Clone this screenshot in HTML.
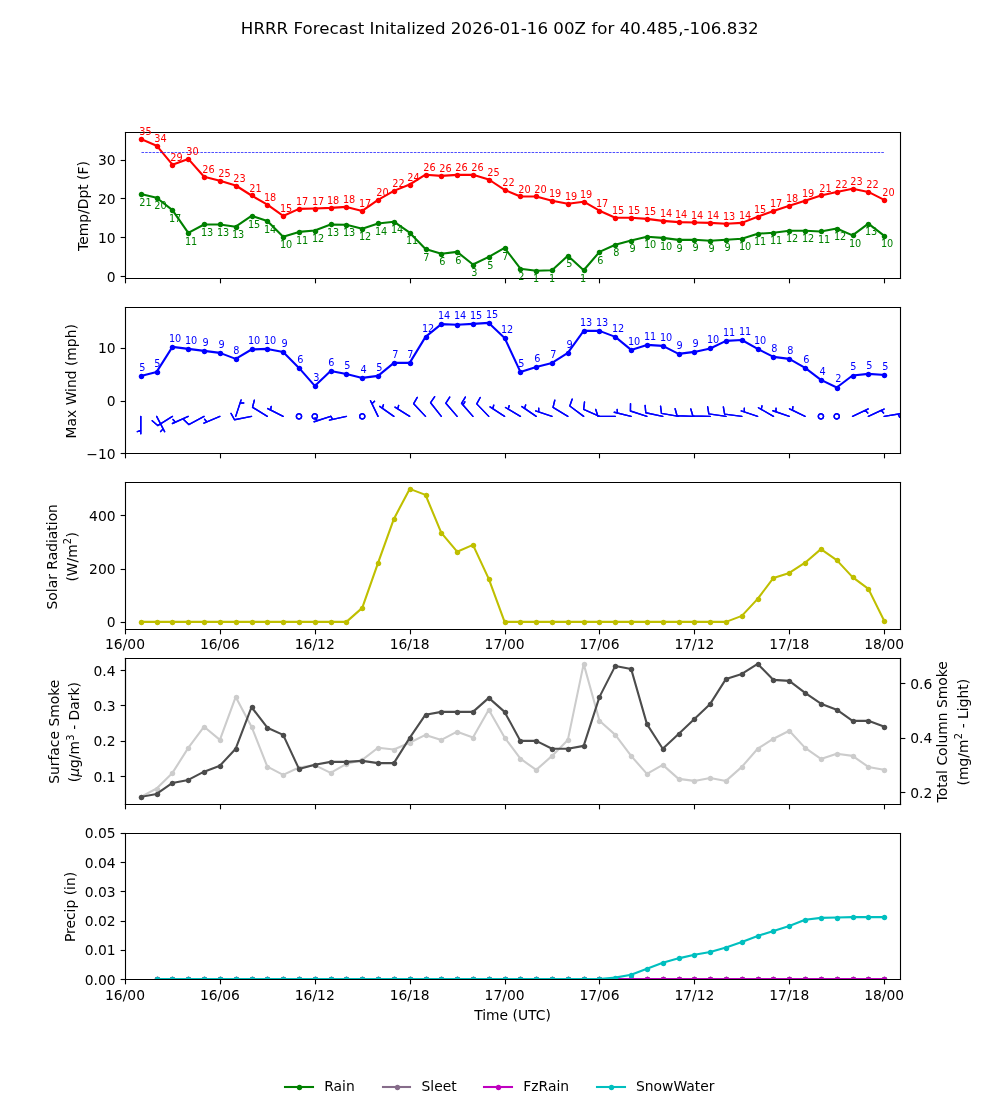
<!DOCTYPE html>
<html lang="en"><head><meta charset="utf-8"><title>HRRR Forecast</title>
<style>html,body{margin:0;padding:0;background:#fff;}svg{display:block;will-change:transform;}text{font-family:"DejaVu Sans","Liberation Sans",sans-serif;}</style></head>
<body>
<svg width="1000" height="1100" viewBox="0 0 720 792" version="1.1">
 <defs>
  <style type="text/css">*{stroke-linejoin: round; stroke-linecap: butt}</style>
 </defs>
 <g id="figure_1">
  <g id="patch_1">
   <path d="M 0 792 
L 720 792 
L 720 0 
L 0 0 
z
" style="fill: #ffffff"/>
  </g>
  <g id="axes_1">
   <g id="patch_2">
    <path d="M 90 200.184828 
L 648 200.184828 
L 648 95.04 
L 90 95.04 
z
" style="fill: #ffffff"/>
   </g>
   <g id="matplotlib.axis_1">
    <g id="xtick_1">
     <g id="line2d_1">
      <defs>
       <path id="m32e9f8ea44" d="M 0 0 
L 0 3.5 
" style="stroke: #000000; stroke-width: 0.8"/>
      </defs>
      <g>
       <use href="#m32e9f8ea44" x="90.3600" y="200.5200" style="stroke: #000000; stroke-width: 0.8"/>
      </g>
     </g>
    </g>
    <g id="xtick_2">
     <g id="line2d_2">
      <g>
       <use href="#m32e9f8ea44" x="158.7600" y="200.5200" style="stroke: #000000; stroke-width: 0.8"/>
      </g>
     </g>
    </g>
    <g id="xtick_3">
     <g id="line2d_3">
      <g>
       <use href="#m32e9f8ea44" x="227.1600" y="200.5200" style="stroke: #000000; stroke-width: 0.8"/>
      </g>
     </g>
    </g>
    <g id="xtick_4">
     <g id="line2d_4">
      <g>
       <use href="#m32e9f8ea44" x="295.5600" y="200.5200" style="stroke: #000000; stroke-width: 0.8"/>
      </g>
     </g>
    </g>
    <g id="xtick_5">
     <g id="line2d_5">
      <g>
       <use href="#m32e9f8ea44" x="363.9600" y="200.5200" style="stroke: #000000; stroke-width: 0.8"/>
      </g>
     </g>
    </g>
    <g id="xtick_6">
     <g id="line2d_6">
      <g>
       <use href="#m32e9f8ea44" x="431.6400" y="200.5200" style="stroke: #000000; stroke-width: 0.8"/>
      </g>
     </g>
    </g>
    <g id="xtick_7">
     <g id="line2d_7">
      <g>
       <use href="#m32e9f8ea44" x="500.0400" y="200.5200" style="stroke: #000000; stroke-width: 0.8"/>
      </g>
     </g>
    </g>
    <g id="xtick_8">
     <g id="line2d_8">
      <g>
       <use href="#m32e9f8ea44" x="568.4400" y="200.5200" style="stroke: #000000; stroke-width: 0.8"/>
      </g>
     </g>
    </g>
    <g id="xtick_9">
     <g id="line2d_9">
      <g>
       <use href="#m32e9f8ea44" x="636.8400" y="200.5200" style="stroke: #000000; stroke-width: 0.8"/>
      </g>
     </g>
    </g>
   </g>
   <g id="matplotlib.axis_2">
    <g id="ytick_1">
     <g id="line2d_10">
      <defs>
       <path id="mfa02ca06f7" d="M 0 0 
L -3.5 0 
" style="stroke: #000000; stroke-width: 0.8"/>
      </defs>
      <g>
       <use href="#mfa02ca06f7" x="90.3600" y="199.0800" style="stroke: #000000; stroke-width: 0.8"/>
      </g>
     </g>
     <g id="text_1">
      <text style="font-size: 10px; font-family: 'DejaVu Sans', 'Liberation Sans', sans-serif; text-anchor: end" x="83.2160" y="202.719419">0</text>
     </g>
    </g>
    <g id="ytick_2">
     <g id="line2d_11">
      <g>
       <use href="#mfa02ca06f7" x="90.3600" y="171.0000" style="stroke: #000000; stroke-width: 0.8"/>
      </g>
     </g>
     <g id="text_2">
      <text style="font-size: 10px; font-family: 'DejaVu Sans', 'Liberation Sans', sans-serif; text-anchor: end" x="83.2160" y="174.770236">10</text>
     </g>
    </g>
    <g id="ytick_3">
     <g id="line2d_12">
      <g>
       <use href="#mfa02ca06f7" x="90.3600" y="142.9200" style="stroke: #000000; stroke-width: 0.8"/>
      </g>
     </g>
     <g id="text_3">
      <text style="font-size: 10px; font-family: 'DejaVu Sans', 'Liberation Sans', sans-serif; text-anchor: end" x="83.2160" y="146.821053">20</text>
     </g>
    </g>
    <g id="ytick_4">
     <g id="line2d_13">
      <g>
       <use href="#mfa02ca06f7" x="90.3600" y="115.5600" style="stroke: #000000; stroke-width: 0.8"/>
      </g>
     </g>
     <g id="text_4">
      <text style="font-size: 10px; font-family: 'DejaVu Sans', 'Liberation Sans', sans-serif; text-anchor: end" x="83.2160" y="118.871869">30</text>
     </g>
    </g>
    <g id="text_5">
     <text style="font-size: 10px; font-family: 'DejaVu Sans', 'Liberation Sans', sans-serif; text-anchor: middle" x="63.4300" y="148.3324" transform="rotate(-90 63.4300 148.3324)">Temp/Dpt (F)</text>
    </g>
   </g>
   <g id="line2d_14">
    <path d="M 101.387755 100.008 
L 112.77551 104.904 
L 124.163265 118.584 
L 135.55102 114.408 
L 146.938776 127.224 
L 158.326531 130.104 
L 169.714286 133.56 
L 181.102041 140.76 
L 192.489796 147.384 
L 203.877551 155.466134 
L 215.265306 150.408 
L 226.653061 150.12 
L 238.040816 149.688 
L 249.428571 148.968 
L 260.816327 151.848 
L 272.204082 143.928 
L 283.591837 137.448 
L 294.979592 132.84 
L 306.367347 125.784 
L 317.755102 126.648 
L 329.142857 125.928 
L 340.530612 125.784 
L 351.918367 129.24 
L 363.306122 136.728 
L 374.693878 141.48 
L 386.081633 141.48 
L 397.469388 144.504 
L 408.857143 146.664 
L 420.244898 145.224 
L 431.632653 151.704 
L 443.020408 156.744 
L 454.408163 156.744 
L 465.795918 157.608 
L 477.183673 159.048 
L 488.571429 159.912 
L 499.959184 160.2 
L 511.346939 160.488 
L 522.734694 161.064 
L 534.122449 160.488 
L 545.510204 156.024 
L 556.897959 151.848 
L 568.285714 148.104 
L 579.673469 144.504 
L 591.061224 140.76 
L 602.44898 138.168 
L 613.836735 135.864 
L 625.22449 138.168 
L 636.612245 143.928 
" clip-path="url(#p893cc0ca87)" style="fill: none; stroke: #ff0000; stroke-width: 1.5; stroke-linecap: square"/>
    <defs>
     <path id="m028112eead" d="M 0 1.5 
C 0.397805 1.5 0.77937 1.341951 1.06066 1.06066 
C 1.341951 0.77937 1.5 0.397805 1.5 0 
C 1.5 -0.397805 1.341951 -0.77937 1.06066 -1.06066 
C 0.77937 -1.341951 0.397805 -1.5 0 -1.5 
C -0.397805 -1.5 -0.77937 -1.341951 -1.06066 -1.06066 
C -1.341951 -0.77937 -1.5 -0.397805 -1.5 0 
C -1.5 0.397805 -1.341951 0.77937 -1.06066 1.06066 
C -0.77937 1.341951 -0.397805 1.5 0 1.5 
z
" style="stroke: #ff0000"/>
    </defs>
    <g clip-path="url(#p893cc0ca87)">
     <use href="#m028112eead" x="101.8800" y="100.4400" style="fill: #ff0000; stroke: #ff0000"/>
     <use href="#m028112eead" x="113.4000" y="105.4800" style="fill: #ff0000; stroke: #ff0000"/>
     <use href="#m028112eead" x="124.2000" y="119.1600" style="fill: #ff0000; stroke: #ff0000"/>
     <use href="#m028112eead" x="135.7200" y="114.8400" style="fill: #ff0000; stroke: #ff0000"/>
     <use href="#m028112eead" x="147.2400" y="127.8000" style="fill: #ff0000; stroke: #ff0000"/>
     <use href="#m028112eead" x="158.7600" y="130.6800" style="fill: #ff0000; stroke: #ff0000"/>
     <use href="#m028112eead" x="170.2800" y="134.2800" style="fill: #ff0000; stroke: #ff0000"/>
     <use href="#m028112eead" x="181.8000" y="140.7600" style="fill: #ff0000; stroke: #ff0000"/>
     <use href="#m028112eead" x="192.6000" y="147.9600" style="fill: #ff0000; stroke: #ff0000"/>
     <use href="#m028112eead" x="204.1200" y="155.8800" style="fill: #ff0000; stroke: #ff0000"/>
     <use href="#m028112eead" x="215.6400" y="150.8400" style="fill: #ff0000; stroke: #ff0000"/>
     <use href="#m028112eead" x="227.1600" y="150.8400" style="fill: #ff0000; stroke: #ff0000"/>
     <use href="#m028112eead" x="238.6800" y="150.1200" style="fill: #ff0000; stroke: #ff0000"/>
     <use href="#m028112eead" x="249.4800" y="149.4000" style="fill: #ff0000; stroke: #ff0000"/>
     <use href="#m028112eead" x="261.0000" y="152.2800" style="fill: #ff0000; stroke: #ff0000"/>
     <use href="#m028112eead" x="272.5200" y="144.3600" style="fill: #ff0000; stroke: #ff0000"/>
     <use href="#m028112eead" x="284.0400" y="137.8800" style="fill: #ff0000; stroke: #ff0000"/>
     <use href="#m028112eead" x="295.5600" y="133.5600" style="fill: #ff0000; stroke: #ff0000"/>
     <use href="#m028112eead" x="307.0800" y="126.3600" style="fill: #ff0000; stroke: #ff0000"/>
     <use href="#m028112eead" x="317.8800" y="127.0800" style="fill: #ff0000; stroke: #ff0000"/>
     <use href="#m028112eead" x="329.4000" y="126.3600" style="fill: #ff0000; stroke: #ff0000"/>
     <use href="#m028112eead" x="340.9200" y="126.3600" style="fill: #ff0000; stroke: #ff0000"/>
     <use href="#m028112eead" x="352.4400" y="129.9600" style="fill: #ff0000; stroke: #ff0000"/>
     <use href="#m028112eead" x="363.9600" y="137.1600" style="fill: #ff0000; stroke: #ff0000"/>
     <use href="#m028112eead" x="374.7600" y="141.4800" style="fill: #ff0000; stroke: #ff0000"/>
     <use href="#m028112eead" x="386.2800" y="141.4800" style="fill: #ff0000; stroke: #ff0000"/>
     <use href="#m028112eead" x="397.8000" y="145.0800" style="fill: #ff0000; stroke: #ff0000"/>
     <use href="#m028112eead" x="409.3200" y="147.2400" style="fill: #ff0000; stroke: #ff0000"/>
     <use href="#m028112eead" x="420.8400" y="145.8000" style="fill: #ff0000; stroke: #ff0000"/>
     <use href="#m028112eead" x="431.6400" y="152.2800" style="fill: #ff0000; stroke: #ff0000"/>
     <use href="#m028112eead" x="443.1600" y="157.3200" style="fill: #ff0000; stroke: #ff0000"/>
     <use href="#m028112eead" x="454.6800" y="157.3200" style="fill: #ff0000; stroke: #ff0000"/>
     <use href="#m028112eead" x="466.2000" y="158.0400" style="fill: #ff0000; stroke: #ff0000"/>
     <use href="#m028112eead" x="477.7200" y="159.4800" style="fill: #ff0000; stroke: #ff0000"/>
     <use href="#m028112eead" x="489.2400" y="160.2000" style="fill: #ff0000; stroke: #ff0000"/>
     <use href="#m028112eead" x="500.0400" y="160.2000" style="fill: #ff0000; stroke: #ff0000"/>
     <use href="#m028112eead" x="511.5600" y="160.9200" style="fill: #ff0000; stroke: #ff0000"/>
     <use href="#m028112eead" x="523.0800" y="161.6400" style="fill: #ff0000; stroke: #ff0000"/>
     <use href="#m028112eead" x="534.6000" y="160.9200" style="fill: #ff0000; stroke: #ff0000"/>
     <use href="#m028112eead" x="546.1200" y="156.6000" style="fill: #ff0000; stroke: #ff0000"/>
     <use href="#m028112eead" x="556.9200" y="152.2800" style="fill: #ff0000; stroke: #ff0000"/>
     <use href="#m028112eead" x="568.4400" y="148.6800" style="fill: #ff0000; stroke: #ff0000"/>
     <use href="#m028112eead" x="579.9600" y="145.0800" style="fill: #ff0000; stroke: #ff0000"/>
     <use href="#m028112eead" x="591.4800" y="140.7600" style="fill: #ff0000; stroke: #ff0000"/>
     <use href="#m028112eead" x="603.0000" y="138.6000" style="fill: #ff0000; stroke: #ff0000"/>
     <use href="#m028112eead" x="614.5200" y="136.4400" style="fill: #ff0000; stroke: #ff0000"/>
     <use href="#m028112eead" x="625.3200" y="138.6000" style="fill: #ff0000; stroke: #ff0000"/>
     <use href="#m028112eead" x="636.8400" y="144.3600" style="fill: #ff0000; stroke: #ff0000"/>
    </g>
   </g>
   <g id="line2d_15">
    <path d="M 101.387755 139.608 
L 112.77551 142.344 
L 124.163265 151.272 
L 135.55102 167.688 
L 146.938776 161.64 
L 158.326531 161.64 
L 169.714286 163.224 
L 181.102041 155.466134 
L 192.489796 159.048 
L 203.877551 170.424 
L 215.265306 166.968 
L 226.653061 165.96 
L 238.040816 161.64 
L 249.428571 161.784 
L 260.816327 164.664 
L 272.204082 160.92 
L 283.591837 159.624 
L 294.979592 167.544 
L 306.367347 179.208 
L 317.755102 182.664 
L 329.142857 181.368 
L 340.530612 190.44 
L 351.918367 184.968 
L 363.306122 178.488 
L 374.693878 193.464 
L 386.081633 194.904 
L 397.469388 194.594991 
L 408.857143 184.104 
L 420.244898 194.594991 
L 431.632653 181.368 
L 443.020408 176.184 
L 454.408163 173.16 
L 465.795918 170.424 
L 477.183673 171.288 
L 488.571429 172.728 
L 499.959184 172.584 
L 511.346939 173.304 
L 522.734694 172.584 
L 534.122449 171.864 
L 545.510204 168.264 
L 556.897959 167.544 
L 568.285714 166.104 
L 579.673469 166.104 
L 591.061224 166.645808 
L 602.44898 164.52 
L 613.836735 169.440726 
L 625.22449 161.064 
L 636.612245 169.704 
" clip-path="url(#p893cc0ca87)" style="fill: none; stroke: #008000; stroke-width: 1.5; stroke-linecap: square"/>
    <defs>
     <path id="m4e61fe54c4" d="M 0 1.5 
C 0.397805 1.5 0.77937 1.341951 1.06066 1.06066 
C 1.341951 0.77937 1.5 0.397805 1.5 0 
C 1.5 -0.397805 1.341951 -0.77937 1.06066 -1.06066 
C 0.77937 -1.341951 0.397805 -1.5 0 -1.5 
C -0.397805 -1.5 -0.77937 -1.341951 -1.06066 -1.06066 
C -1.341951 -0.77937 -1.5 -0.397805 -1.5 0 
C -1.5 0.397805 -1.341951 0.77937 -1.06066 1.06066 
C -0.77937 1.341951 -0.397805 1.5 0 1.5 
z
" style="stroke: #008000"/>
    </defs>
    <g clip-path="url(#p893cc0ca87)">
     <use href="#m4e61fe54c4" x="101.8800" y="140.0400" style="fill: #008000; stroke: #008000"/>
     <use href="#m4e61fe54c4" x="113.4000" y="142.9200" style="fill: #008000; stroke: #008000"/>
     <use href="#m4e61fe54c4" x="124.2000" y="151.5600" style="fill: #008000; stroke: #008000"/>
     <use href="#m4e61fe54c4" x="135.7200" y="168.1200" style="fill: #008000; stroke: #008000"/>
     <use href="#m4e61fe54c4" x="147.2400" y="161.6400" style="fill: #008000; stroke: #008000"/>
     <use href="#m4e61fe54c4" x="158.7600" y="161.6400" style="fill: #008000; stroke: #008000"/>
     <use href="#m4e61fe54c4" x="170.2800" y="163.8000" style="fill: #008000; stroke: #008000"/>
     <use href="#m4e61fe54c4" x="181.8000" y="155.8800" style="fill: #008000; stroke: #008000"/>
     <use href="#m4e61fe54c4" x="192.6000" y="159.4800" style="fill: #008000; stroke: #008000"/>
     <use href="#m4e61fe54c4" x="204.1200" y="171.0000" style="fill: #008000; stroke: #008000"/>
     <use href="#m4e61fe54c4" x="215.6400" y="167.4000" style="fill: #008000; stroke: #008000"/>
     <use href="#m4e61fe54c4" x="227.1600" y="166.6800" style="fill: #008000; stroke: #008000"/>
     <use href="#m4e61fe54c4" x="238.6800" y="161.6400" style="fill: #008000; stroke: #008000"/>
     <use href="#m4e61fe54c4" x="249.4800" y="162.3600" style="fill: #008000; stroke: #008000"/>
     <use href="#m4e61fe54c4" x="261.0000" y="165.2400" style="fill: #008000; stroke: #008000"/>
     <use href="#m4e61fe54c4" x="272.5200" y="160.9200" style="fill: #008000; stroke: #008000"/>
     <use href="#m4e61fe54c4" x="284.0400" y="160.2000" style="fill: #008000; stroke: #008000"/>
     <use href="#m4e61fe54c4" x="295.5600" y="168.1200" style="fill: #008000; stroke: #008000"/>
     <use href="#m4e61fe54c4" x="307.0800" y="179.6400" style="fill: #008000; stroke: #008000"/>
     <use href="#m4e61fe54c4" x="317.8800" y="183.2400" style="fill: #008000; stroke: #008000"/>
     <use href="#m4e61fe54c4" x="329.4000" y="181.8000" style="fill: #008000; stroke: #008000"/>
     <use href="#m4e61fe54c4" x="340.9200" y="191.1600" style="fill: #008000; stroke: #008000"/>
     <use href="#m4e61fe54c4" x="352.4400" y="185.4000" style="fill: #008000; stroke: #008000"/>
     <use href="#m4e61fe54c4" x="363.9600" y="178.9200" style="fill: #008000; stroke: #008000"/>
     <use href="#m4e61fe54c4" x="374.7600" y="194.0400" style="fill: #008000; stroke: #008000"/>
     <use href="#m4e61fe54c4" x="386.2800" y="195.4800" style="fill: #008000; stroke: #008000"/>
     <use href="#m4e61fe54c4" x="397.8000" y="194.7600" style="fill: #008000; stroke: #008000"/>
     <use href="#m4e61fe54c4" x="409.3200" y="184.6800" style="fill: #008000; stroke: #008000"/>
     <use href="#m4e61fe54c4" x="420.8400" y="194.7600" style="fill: #008000; stroke: #008000"/>
     <use href="#m4e61fe54c4" x="431.6400" y="181.8000" style="fill: #008000; stroke: #008000"/>
     <use href="#m4e61fe54c4" x="443.1600" y="176.7600" style="fill: #008000; stroke: #008000"/>
     <use href="#m4e61fe54c4" x="454.6800" y="173.8800" style="fill: #008000; stroke: #008000"/>
     <use href="#m4e61fe54c4" x="466.2000" y="171.0000" style="fill: #008000; stroke: #008000"/>
     <use href="#m4e61fe54c4" x="477.7200" y="171.7200" style="fill: #008000; stroke: #008000"/>
     <use href="#m4e61fe54c4" x="489.2400" y="173.1600" style="fill: #008000; stroke: #008000"/>
     <use href="#m4e61fe54c4" x="500.0400" y="173.1600" style="fill: #008000; stroke: #008000"/>
     <use href="#m4e61fe54c4" x="511.5600" y="173.8800" style="fill: #008000; stroke: #008000"/>
     <use href="#m4e61fe54c4" x="523.0800" y="173.1600" style="fill: #008000; stroke: #008000"/>
     <use href="#m4e61fe54c4" x="534.6000" y="172.4400" style="fill: #008000; stroke: #008000"/>
     <use href="#m4e61fe54c4" x="546.1200" y="168.8400" style="fill: #008000; stroke: #008000"/>
     <use href="#m4e61fe54c4" x="556.9200" y="168.1200" style="fill: #008000; stroke: #008000"/>
     <use href="#m4e61fe54c4" x="568.4400" y="166.6800" style="fill: #008000; stroke: #008000"/>
     <use href="#m4e61fe54c4" x="579.9600" y="166.6800" style="fill: #008000; stroke: #008000"/>
     <use href="#m4e61fe54c4" x="591.4800" y="166.6800" style="fill: #008000; stroke: #008000"/>
     <use href="#m4e61fe54c4" x="603.0000" y="165.2400" style="fill: #008000; stroke: #008000"/>
     <use href="#m4e61fe54c4" x="614.5200" y="169.5600" style="fill: #008000; stroke: #008000"/>
     <use href="#m4e61fe54c4" x="625.3200" y="161.6400" style="fill: #008000; stroke: #008000"/>
     <use href="#m4e61fe54c4" x="636.8400" y="170.2800" style="fill: #008000; stroke: #008000"/>
    </g>
   </g>
   <g id="line2d_16">
    <path d="M 101.8800 109.8000 L 636.8400 109.8000" clip-path="url(#p893cc0ca87)" style="fill: none; stroke-dasharray: 1.85,0.8; stroke-dashoffset: 0; stroke: #0000ff; stroke-width: 0.5"/>
   </g>
   <g id="patch_3">
    <path d="M 90.3600 200.5200 L 90.3600 95.4000" style="fill: none; stroke: #000000; stroke-width: 0.8; stroke-linejoin: miter; stroke-linecap: square"/>
   </g>
   <g id="patch_4">
    <path d="M 648.3600 200.5200 L 648.3600 95.4000" style="fill: none; stroke: #000000; stroke-width: 0.8; stroke-linejoin: miter; stroke-linecap: square"/>
   </g>
   <g id="patch_5">
    <path d="M 90.3600 200.5200 L 648.3600 200.5200" style="fill: none; stroke: #000000; stroke-width: 0.8; stroke-linejoin: miter; stroke-linecap: square"/>
   </g>
   <g id="patch_6">
    <path d="M 90.3600 95.4000 L 648.3600 95.4000" style="fill: none; stroke: #000000; stroke-width: 0.8; stroke-linejoin: miter; stroke-linecap: square"/>
   </g>
   <g id="text_6">
    <text style="font-size: 7px; font-family: 'DejaVu Sans', 'Liberation Sans', sans-serif; text-anchor: start; fill: #ff0000" x="100.2528" y="97.2000">35</text>
   </g>
   <g id="text_7">
    <text style="font-size: 7px; font-family: 'DejaVu Sans', 'Liberation Sans', sans-serif; text-anchor: start; fill: #ff0000" x="111.0528" y="102.2400">34</text>
   </g>
   <g id="text_8">
    <text style="font-size: 7px; font-family: 'DejaVu Sans', 'Liberation Sans', sans-serif; text-anchor: start; fill: #ff0000" x="122.5944" y="115.9200">29</text>
   </g>
   <g id="text_9">
    <text style="font-size: 7px; font-family: 'DejaVu Sans', 'Liberation Sans', sans-serif; text-anchor: start; fill: #ff0000" x="134.0928" y="111.6000">30</text>
   </g>
   <g id="text_10">
    <text style="font-size: 7px; font-family: 'DejaVu Sans', 'Liberation Sans', sans-serif; text-anchor: start; fill: #ff0000" x="145.6344" y="124.5600">26</text>
   </g>
   <g id="text_11">
    <text style="font-size: 7px; font-family: 'DejaVu Sans', 'Liberation Sans', sans-serif; text-anchor: start; fill: #ff0000" x="157.1544" y="127.4400">25</text>
   </g>
   <g id="text_12">
    <text style="font-size: 7px; font-family: 'DejaVu Sans', 'Liberation Sans', sans-serif; text-anchor: start; fill: #ff0000" x="167.9544" y="131.0400">23</text>
   </g>
   <g id="text_13">
    <text style="font-size: 7px; font-family: 'DejaVu Sans', 'Liberation Sans', sans-serif; text-anchor: start; fill: #ff0000" x="179.4744" y="138.2400">21</text>
   </g>
   <g id="text_14">
    <text style="font-size: 7px; font-family: 'DejaVu Sans', 'Liberation Sans', sans-serif; text-anchor: start; fill: #ff0000" x="190.0296" y="144.7200">18</text>
   </g>
   <g id="text_15">
    <text style="font-size: 7px; font-family: 'DejaVu Sans', 'Liberation Sans', sans-serif; text-anchor: start; fill: #ff0000" x="201.5496" y="152.6400">15</text>
   </g>
   <g id="text_16">
    <text style="font-size: 7px; font-family: 'DejaVu Sans', 'Liberation Sans', sans-serif; text-anchor: start; fill: #ff0000" x="213.0696" y="147.6000">17</text>
   </g>
   <g id="text_17">
    <text style="font-size: 7px; font-family: 'DejaVu Sans', 'Liberation Sans', sans-serif; text-anchor: start; fill: #ff0000" x="224.5896" y="147.6000">17</text>
   </g>
   <g id="text_18">
    <text style="font-size: 7px; font-family: 'DejaVu Sans', 'Liberation Sans', sans-serif; text-anchor: start; fill: #ff0000" x="235.3896" y="146.8800">18</text>
   </g>
   <g id="text_19">
    <text style="font-size: 7px; font-family: 'DejaVu Sans', 'Liberation Sans', sans-serif; text-anchor: start; fill: #ff0000" x="246.9096" y="146.1600">18</text>
   </g>
   <g id="text_20">
    <text style="font-size: 7px; font-family: 'DejaVu Sans', 'Liberation Sans', sans-serif; text-anchor: start; fill: #ff0000" x="258.4296" y="149.0400">17</text>
   </g>
   <g id="text_21">
    <text style="font-size: 7px; font-family: 'DejaVu Sans', 'Liberation Sans', sans-serif; text-anchor: start; fill: #ff0000" x="270.9144" y="141.1200">20</text>
   </g>
   <g id="text_22">
    <text style="font-size: 7px; font-family: 'DejaVu Sans', 'Liberation Sans', sans-serif; text-anchor: start; fill: #ff0000" x="282.4344" y="134.6400">22</text>
   </g>
   <g id="text_23">
    <text style="font-size: 7px; font-family: 'DejaVu Sans', 'Liberation Sans', sans-serif; text-anchor: start; fill: #ff0000" x="293.2344" y="130.3200">24</text>
   </g>
   <g id="text_24">
    <text style="font-size: 7px; font-family: 'DejaVu Sans', 'Liberation Sans', sans-serif; text-anchor: start; fill: #ff0000" x="304.7544" y="123.1200">26</text>
   </g>
   <g id="text_25">
    <text style="font-size: 7px; font-family: 'DejaVu Sans', 'Liberation Sans', sans-serif; text-anchor: start; fill: #ff0000" x="316.2744" y="123.8400">26</text>
   </g>
   <g id="text_26">
    <text style="font-size: 7px; font-family: 'DejaVu Sans', 'Liberation Sans', sans-serif; text-anchor: start; fill: #ff0000" x="327.7944" y="123.1200">26</text>
   </g>
   <g id="text_27">
    <text style="font-size: 7px; font-family: 'DejaVu Sans', 'Liberation Sans', sans-serif; text-anchor: start; fill: #ff0000" x="339.3144" y="123.1200">26</text>
   </g>
   <g id="text_28">
    <text style="font-size: 7px; font-family: 'DejaVu Sans', 'Liberation Sans', sans-serif; text-anchor: start; fill: #ff0000" x="350.8344" y="126.7200">25</text>
   </g>
   <g id="text_29">
    <text style="font-size: 7px; font-family: 'DejaVu Sans', 'Liberation Sans', sans-serif; text-anchor: start; fill: #ff0000" x="361.6344" y="133.9200">22</text>
   </g>
   <g id="text_30">
    <text style="font-size: 7px; font-family: 'DejaVu Sans', 'Liberation Sans', sans-serif; text-anchor: start; fill: #ff0000" x="373.1544" y="138.9600">20</text>
   </g>
   <g id="text_31">
    <text style="font-size: 7px; font-family: 'DejaVu Sans', 'Liberation Sans', sans-serif; text-anchor: start; fill: #ff0000" x="384.6744" y="138.9600">20</text>
   </g>
   <g id="text_32">
    <text style="font-size: 7px; font-family: 'DejaVu Sans', 'Liberation Sans', sans-serif; text-anchor: start; fill: #ff0000" x="395.2296" y="141.8400">19</text>
   </g>
   <g id="text_33">
    <text style="font-size: 7px; font-family: 'DejaVu Sans', 'Liberation Sans', sans-serif; text-anchor: start; fill: #ff0000" x="406.7496" y="144.0000">19</text>
   </g>
   <g id="text_34">
    <text style="font-size: 7px; font-family: 'DejaVu Sans', 'Liberation Sans', sans-serif; text-anchor: start; fill: #ff0000" x="417.5496" y="142.5600">19</text>
   </g>
   <g id="text_35">
    <text style="font-size: 7px; font-family: 'DejaVu Sans', 'Liberation Sans', sans-serif; text-anchor: start; fill: #ff0000" x="429.0696" y="149.0400">17</text>
   </g>
   <g id="text_36">
    <text style="font-size: 7px; font-family: 'DejaVu Sans', 'Liberation Sans', sans-serif; text-anchor: start; fill: #ff0000" x="440.5896" y="154.0800">15</text>
   </g>
   <g id="text_37">
    <text style="font-size: 7px; font-family: 'DejaVu Sans', 'Liberation Sans', sans-serif; text-anchor: start; fill: #ff0000" x="452.1096" y="154.0800">15</text>
   </g>
   <g id="text_38">
    <text style="font-size: 7px; font-family: 'DejaVu Sans', 'Liberation Sans', sans-serif; text-anchor: start; fill: #ff0000" x="463.6296" y="154.8000">15</text>
   </g>
   <g id="text_39">
    <text style="font-size: 7px; font-family: 'DejaVu Sans', 'Liberation Sans', sans-serif; text-anchor: start; fill: #ff0000" x="475.1496" y="156.2400">14</text>
   </g>
   <g id="text_40">
    <text style="font-size: 7px; font-family: 'DejaVu Sans', 'Liberation Sans', sans-serif; text-anchor: start; fill: #ff0000" x="485.9496" y="156.9600">14</text>
   </g>
   <g id="text_41">
    <text style="font-size: 7px; font-family: 'DejaVu Sans', 'Liberation Sans', sans-serif; text-anchor: start; fill: #ff0000" x="497.4696" y="157.6800">14</text>
   </g>
   <g id="text_42">
    <text style="font-size: 7px; font-family: 'DejaVu Sans', 'Liberation Sans', sans-serif; text-anchor: start; fill: #ff0000" x="508.9896" y="157.6800">14</text>
   </g>
   <g id="text_43">
    <text style="font-size: 7px; font-family: 'DejaVu Sans', 'Liberation Sans', sans-serif; text-anchor: start; fill: #ff0000" x="520.5096" y="158.4000">13</text>
   </g>
   <g id="text_44">
    <text style="font-size: 7px; font-family: 'DejaVu Sans', 'Liberation Sans', sans-serif; text-anchor: start; fill: #ff0000" x="532.0296" y="157.6800">14</text>
   </g>
   <g id="text_45">
    <text style="font-size: 7px; font-family: 'DejaVu Sans', 'Liberation Sans', sans-serif; text-anchor: start; fill: #ff0000" x="542.8296" y="153.3600">15</text>
   </g>
   <g id="text_46">
    <text style="font-size: 7px; font-family: 'DejaVu Sans', 'Liberation Sans', sans-serif; text-anchor: start; fill: #ff0000" x="554.3496" y="149.0400">17</text>
   </g>
   <g id="text_47">
    <text style="font-size: 7px; font-family: 'DejaVu Sans', 'Liberation Sans', sans-serif; text-anchor: start; fill: #ff0000" x="565.8696" y="145.4400">18</text>
   </g>
   <g id="text_48">
    <text style="font-size: 7px; font-family: 'DejaVu Sans', 'Liberation Sans', sans-serif; text-anchor: start; fill: #ff0000" x="577.3896" y="141.8400">19</text>
   </g>
   <g id="text_49">
    <text style="font-size: 7px; font-family: 'DejaVu Sans', 'Liberation Sans', sans-serif; text-anchor: start; fill: #ff0000" x="589.8744" y="138.2400">21</text>
   </g>
   <g id="text_50">
    <text style="font-size: 7px; font-family: 'DejaVu Sans', 'Liberation Sans', sans-serif; text-anchor: start; fill: #ff0000" x="601.3944" y="135.3600">22</text>
   </g>
   <g id="text_51">
    <text style="font-size: 7px; font-family: 'DejaVu Sans', 'Liberation Sans', sans-serif; text-anchor: start; fill: #ff0000" x="612.1944" y="133.2000">23</text>
   </g>
   <g id="text_52">
    <text style="font-size: 7px; font-family: 'DejaVu Sans', 'Liberation Sans', sans-serif; text-anchor: start; fill: #ff0000" x="623.7144" y="135.3600">22</text>
   </g>
   <g id="text_53">
    <text style="font-size: 7px; font-family: 'DejaVu Sans', 'Liberation Sans', sans-serif; text-anchor: start; fill: #ff0000" x="635.2344" y="141.1200">20</text>
   </g>
   <g id="text_54">
    <text style="font-size: 7px; font-family: 'DejaVu Sans', 'Liberation Sans', sans-serif; text-anchor: start; fill: #008000" x="100.2744" y="148.3200">21</text>
   </g>
   <g id="text_55">
    <text style="font-size: 7px; font-family: 'DejaVu Sans', 'Liberation Sans', sans-serif; text-anchor: start; fill: #008000" x="111.0744" y="150.4800">20</text>
   </g>
   <g id="text_56">
    <text style="font-size: 7px; font-family: 'DejaVu Sans', 'Liberation Sans', sans-serif; text-anchor: start; fill: #008000" x="121.6296" y="159.8400">17</text>
   </g>
   <g id="text_57">
    <text style="font-size: 7px; font-family: 'DejaVu Sans', 'Liberation Sans', sans-serif; text-anchor: start; fill: #008000" x="133.1496" y="176.4000">11</text>
   </g>
   <g id="text_58">
    <text style="font-size: 7px; font-family: 'DejaVu Sans', 'Liberation Sans', sans-serif; text-anchor: start; fill: #008000" x="144.6696" y="169.9200">13</text>
   </g>
   <g id="text_59">
    <text style="font-size: 7px; font-family: 'DejaVu Sans', 'Liberation Sans', sans-serif; text-anchor: start; fill: #008000" x="156.1896" y="169.9200">13</text>
   </g>
   <g id="text_60">
    <text style="font-size: 7px; font-family: 'DejaVu Sans', 'Liberation Sans', sans-serif; text-anchor: start; fill: #008000" x="166.9896" y="171.3600">13</text>
   </g>
   <g id="text_61">
    <text style="font-size: 7px; font-family: 'DejaVu Sans', 'Liberation Sans', sans-serif; text-anchor: start; fill: #008000" x="178.5096" y="164.1600">15</text>
   </g>
   <g id="text_62">
    <text style="font-size: 7px; font-family: 'DejaVu Sans', 'Liberation Sans', sans-serif; text-anchor: start; fill: #008000" x="190.0296" y="167.7600">14</text>
   </g>
   <g id="text_63">
    <text style="font-size: 7px; font-family: 'DejaVu Sans', 'Liberation Sans', sans-serif; text-anchor: start; fill: #008000" x="201.5496" y="178.5600">10</text>
   </g>
   <g id="text_64">
    <text style="font-size: 7px; font-family: 'DejaVu Sans', 'Liberation Sans', sans-serif; text-anchor: start; fill: #008000" x="213.0696" y="175.6800">11</text>
   </g>
   <g id="text_65">
    <text style="font-size: 7px; font-family: 'DejaVu Sans', 'Liberation Sans', sans-serif; text-anchor: start; fill: #008000" x="224.5896" y="174.2400">12</text>
   </g>
   <g id="text_66">
    <text style="font-size: 7px; font-family: 'DejaVu Sans', 'Liberation Sans', sans-serif; text-anchor: start; fill: #008000" x="235.3896" y="169.9200">13</text>
   </g>
   <g id="text_67">
    <text style="font-size: 7px; font-family: 'DejaVu Sans', 'Liberation Sans', sans-serif; text-anchor: start; fill: #008000" x="246.9096" y="169.9200">13</text>
   </g>
   <g id="text_68">
    <text style="font-size: 7px; font-family: 'DejaVu Sans', 'Liberation Sans', sans-serif; text-anchor: start; fill: #008000" x="258.4296" y="172.8000">12</text>
   </g>
   <g id="text_69">
    <text style="font-size: 7px; font-family: 'DejaVu Sans', 'Liberation Sans', sans-serif; text-anchor: start; fill: #008000" x="269.9496" y="169.2000">14</text>
   </g>
   <g id="text_70">
    <text style="font-size: 7px; font-family: 'DejaVu Sans', 'Liberation Sans', sans-serif; text-anchor: start; fill: #008000" x="281.4696" y="167.7600">14</text>
   </g>
   <g id="text_71">
    <text style="font-size: 7px; font-family: 'DejaVu Sans', 'Liberation Sans', sans-serif; text-anchor: start; fill: #008000" x="292.2696" y="175.6800">11</text>
   </g>
   <g id="text_72">
    <text style="font-size: 7px; font-family: 'DejaVu Sans', 'Liberation Sans', sans-serif; text-anchor: start; fill: #008000" x="304.7040" y="187.9200">7</text>
   </g>
   <g id="text_73">
    <text style="font-size: 7px; font-family: 'DejaVu Sans', 'Liberation Sans', sans-serif; text-anchor: start; fill: #008000" x="316.3104" y="190.8000">6</text>
   </g>
   <g id="text_74">
    <text style="font-size: 7px; font-family: 'DejaVu Sans', 'Liberation Sans', sans-serif; text-anchor: start; fill: #008000" x="327.8304" y="190.0800">6</text>
   </g>
   <g id="text_75">
    <text style="font-size: 7px; font-family: 'DejaVu Sans', 'Liberation Sans', sans-serif; text-anchor: start; fill: #008000" x="339.2928" y="198.7200">3</text>
   </g>
   <g id="text_76">
    <text style="font-size: 7px; font-family: 'DejaVu Sans', 'Liberation Sans', sans-serif; text-anchor: start; fill: #008000" x="350.8128" y="193.6800">5</text>
   </g>
   <g id="text_77">
    <text style="font-size: 7px; font-family: 'DejaVu Sans', 'Liberation Sans', sans-serif; text-anchor: start; fill: #008000" x="361.5840" y="187.2000">7</text>
   </g>
   <g id="text_78">
    <text style="font-size: 7px; font-family: 'DejaVu Sans', 'Liberation Sans', sans-serif; text-anchor: start; fill: #008000" x="373.1544" y="201.6000">2</text>
   </g>
   <g id="text_79">
    <text style="font-size: 7px; font-family: 'DejaVu Sans', 'Liberation Sans', sans-serif; text-anchor: start; fill: #008000" x="383.7096" y="203.0400">1</text>
   </g>
   <g id="text_80">
    <text style="font-size: 7px; font-family: 'DejaVu Sans', 'Liberation Sans', sans-serif; text-anchor: start; fill: #008000" x="395.2296" y="203.0400">1</text>
   </g>
   <g id="text_81">
    <text style="font-size: 7px; font-family: 'DejaVu Sans', 'Liberation Sans', sans-serif; text-anchor: start; fill: #008000" x="407.6928" y="192.2400">5</text>
   </g>
   <g id="text_82">
    <text style="font-size: 7px; font-family: 'DejaVu Sans', 'Liberation Sans', sans-serif; text-anchor: start; fill: #008000" x="417.5496" y="203.0400">1</text>
   </g>
   <g id="text_83">
    <text style="font-size: 7px; font-family: 'DejaVu Sans', 'Liberation Sans', sans-serif; text-anchor: start; fill: #008000" x="430.0704" y="190.0800">6</text>
   </g>
   <g id="text_84">
    <text style="font-size: 7px; font-family: 'DejaVu Sans', 'Liberation Sans', sans-serif; text-anchor: start; fill: #008000" x="441.6120" y="184.3200">8</text>
   </g>
   <g id="text_85">
    <text style="font-size: 7px; font-family: 'DejaVu Sans', 'Liberation Sans', sans-serif; text-anchor: start; fill: #008000" x="453.1608" y="181.4400">9</text>
   </g>
   <g id="text_86">
    <text style="font-size: 7px; font-family: 'DejaVu Sans', 'Liberation Sans', sans-serif; text-anchor: start; fill: #008000" x="463.6296" y="178.5600">10</text>
   </g>
   <g id="text_87">
    <text style="font-size: 7px; font-family: 'DejaVu Sans', 'Liberation Sans', sans-serif; text-anchor: start; fill: #008000" x="475.1496" y="180.0000">10</text>
   </g>
   <g id="text_88">
    <text style="font-size: 7px; font-family: 'DejaVu Sans', 'Liberation Sans', sans-serif; text-anchor: start; fill: #008000" x="487.0008" y="181.4400">9</text>
   </g>
   <g id="text_89">
    <text style="font-size: 7px; font-family: 'DejaVu Sans', 'Liberation Sans', sans-serif; text-anchor: start; fill: #008000" x="498.5208" y="180.7200">9</text>
   </g>
   <g id="text_90">
    <text style="font-size: 7px; font-family: 'DejaVu Sans', 'Liberation Sans', sans-serif; text-anchor: start; fill: #008000" x="510.0408" y="181.4400">9</text>
   </g>
   <g id="text_91">
    <text style="font-size: 7px; font-family: 'DejaVu Sans', 'Liberation Sans', sans-serif; text-anchor: start; fill: #008000" x="521.5608" y="180.7200">9</text>
   </g>
   <g id="text_92">
    <text style="font-size: 7px; font-family: 'DejaVu Sans', 'Liberation Sans', sans-serif; text-anchor: start; fill: #008000" x="532.0296" y="180.0000">10</text>
   </g>
   <g id="text_93">
    <text style="font-size: 7px; font-family: 'DejaVu Sans', 'Liberation Sans', sans-serif; text-anchor: start; fill: #008000" x="542.8296" y="176.4000">11</text>
   </g>
   <g id="text_94">
    <text style="font-size: 7px; font-family: 'DejaVu Sans', 'Liberation Sans', sans-serif; text-anchor: start; fill: #008000" x="554.3496" y="175.6800">11</text>
   </g>
   <g id="text_95">
    <text style="font-size: 7px; font-family: 'DejaVu Sans', 'Liberation Sans', sans-serif; text-anchor: start; fill: #008000" x="565.8696" y="174.2400">12</text>
   </g>
   <g id="text_96">
    <text style="font-size: 7px; font-family: 'DejaVu Sans', 'Liberation Sans', sans-serif; text-anchor: start; fill: #008000" x="577.3896" y="174.2400">12</text>
   </g>
   <g id="text_97">
    <text style="font-size: 7px; font-family: 'DejaVu Sans', 'Liberation Sans', sans-serif; text-anchor: start; fill: #008000" x="588.9096" y="174.9600">11</text>
   </g>
   <g id="text_98">
    <text style="font-size: 7px; font-family: 'DejaVu Sans', 'Liberation Sans', sans-serif; text-anchor: start; fill: #008000" x="600.4296" y="172.8000">12</text>
   </g>
   <g id="text_99">
    <text style="font-size: 7px; font-family: 'DejaVu Sans', 'Liberation Sans', sans-serif; text-anchor: start; fill: #008000" x="611.2296" y="177.8400">10</text>
   </g>
   <g id="text_100">
    <text style="font-size: 7px; font-family: 'DejaVu Sans', 'Liberation Sans', sans-serif; text-anchor: start; fill: #008000" x="622.7496" y="169.2000">13</text>
   </g>
   <g id="text_101">
    <text style="font-size: 7px; font-family: 'DejaVu Sans', 'Liberation Sans', sans-serif; text-anchor: start; fill: #008000" x="634.2696" y="177.8400">10</text>
   </g>
  </g>
  <g id="axes_2">
   <g id="patch_7">
    <path d="M 90 326.358621 
L 648 326.358621 
L 648 221.213793 
L 90 221.213793 
z
" style="fill: #ffffff"/>
   </g>
   <g id="Barbs_1">
    <path d="M 101.387755 299.787726 
L 101.387755 312.287726 
L 101.387755 309.943976 
L 98.887755 310.725226 
L 101.387755 309.943976 
z
" clip-path="url(#p71950203c7)" style="fill: #0000ff; stroke: #0000ff"/>
    <path d="M 112.77551 299.787726 
L 118.564849 310.866244 
L 117.479348 308.789021 
L 115.625478 310.639297 
L 117.479348 308.789021 
z
" clip-path="url(#p71950203c7)" style="fill: #0000ff; stroke: #0000ff"/>
    <path d="M 124.163265 299.787726 
L 113.548563 306.389096 
L 109.581177 302.968386 
L 113.548563 306.389096 
z
" clip-path="url(#p71950203c7)" style="fill: #0000ff; stroke: #0000ff"/>
    <path d="M 135.55102 299.787726 
L 124.154809 304.923518 
L 126.291599 303.960557 
L 124.552177 302.002302 
L 126.291599 303.960557 
z
" clip-path="url(#p71950203c7)" style="fill: #0000ff; stroke: #0000ff"/>
    <path d="M 146.938776 299.787726 
L 135.917676 305.685638 
L 132.180874 302.014438 
L 135.917676 305.685638 
z
" clip-path="url(#p71950203c7)" style="fill: #0000ff; stroke: #0000ff"/>
    <path d="M 158.326531 299.787726 
L 146.842395 304.72378 
L 148.99567 303.798269 
L 147.290701 301.809946 
L 148.99567 303.798269 
z
" clip-path="url(#p71950203c7)" style="fill: #0000ff; stroke: #0000ff"/>
    <path d="M 169.714286 299.787726 
L 173.592001 287.904404 
L 172.864929 290.132527 
L 175.483951 290.165363 
L 172.864929 290.132527 
z
" clip-path="url(#p71950203c7)" style="fill: #0000ff; stroke: #0000ff"/>
    <path d="M 181.102041 299.787726 
L 168.844782 302.239177 
L 166.332044 297.642705 
L 168.844782 302.239177 
z
" clip-path="url(#p71950203c7)" style="fill: #0000ff; stroke: #0000ff"/>
    <path d="M 192.489796 299.787726 
L 181.838926 293.24487 
L 183.124709 288.166665 
L 181.838926 293.24487 
z
" clip-path="url(#p71950203c7)" style="fill: #0000ff; stroke: #0000ff"/>
    <path d="M 203.877551 299.787726 
L 192.732415 294.127696 
L 194.822128 295.188951 
L 195.257563 292.606172 
L 194.822128 295.188951 
z
" clip-path="url(#p71950203c7)" style="fill: #0000ff; stroke: #0000ff"/>
    <path d="M 215.265306 297.912726 
L 214.685899 298.004495 
L 214.163209 298.270819 
L 213.748399 298.685628 
L 213.482075 299.208319 
L 213.390306 299.787726 
L 213.482075 300.367132 
L 213.748399 300.889823 
L 214.163209 301.304632 
L 214.685899 301.570957 
L 215.265306 301.662726 
L 215.844713 301.570957 
L 216.367403 301.304632 
L 216.782213 300.889823 
L 217.048537 300.367132 
L 217.140306 299.787726 
L 217.048537 299.208319 
L 216.782213 298.685628 
L 216.367403 298.270819 
L 215.844713 298.004495 
L 215.265306 297.912726 
L 215.265306 297.912726 
L 215.844713 298.004495 
L 216.367403 298.270819 
L 216.782213 298.685628 
L 217.048537 299.208319 
L 217.140306 299.787726 
L 217.048537 300.367132 
L 216.782213 300.889823 
L 216.367403 301.304632 
L 215.844713 301.570957 
L 215.265306 301.662726 
L 214.685899 301.570957 
L 214.163209 301.304632 
L 213.748399 300.889823 
L 213.482075 300.367132 
L 213.390306 299.787726 
L 213.482075 299.208319 
L 213.748399 298.685628 
L 214.163209 298.270819 
L 214.685899 298.004495 
L 215.265306 297.912726 
z
" clip-path="url(#p71950203c7)" style="fill: #0000ff; stroke: #0000ff"/>
    <path d="M 226.653061 297.912726 
L 226.073654 298.004495 
L 225.550964 298.270819 
L 225.136154 298.685628 
L 224.86983 299.208319 
L 224.778061 299.787726 
L 224.86983 300.367132 
L 225.136154 300.889823 
L 225.550964 301.304632 
L 226.073654 301.570957 
L 226.653061 301.662726 
L 227.232468 301.570957 
L 227.755159 301.304632 
L 228.169968 300.889823 
L 228.436292 300.367132 
L 228.528061 299.787726 
L 228.436292 299.208319 
L 228.169968 298.685628 
L 227.755159 298.270819 
L 227.232468 298.004495 
L 226.653061 297.912726 
L 226.653061 297.912726 
L 227.232468 298.004495 
L 227.755159 298.270819 
L 228.169968 298.685628 
L 228.436292 299.208319 
L 228.528061 299.787726 
L 228.436292 300.367132 
L 228.169968 300.889823 
L 227.755159 301.304632 
L 227.232468 301.570957 
L 226.653061 301.662726 
L 226.073654 301.570957 
L 225.550964 301.304632 
L 225.136154 300.889823 
L 224.86983 300.367132 
L 224.778061 299.787726 
L 224.86983 299.208319 
L 225.136154 298.685628 
L 225.550964 298.270819 
L 226.073654 298.004495 
L 226.653061 297.912726 
z
" clip-path="url(#p71950203c7)" style="fill: #0000ff; stroke: #0000ff"/>
    <path d="M 238.040816 299.787726 
L 226.157495 303.665441 
L 228.385618 302.938369 
L 226.867367 300.804062 
L 228.385618 302.938369 
z
" clip-path="url(#p71950203c7)" style="fill: #0000ff; stroke: #0000ff"/>
    <path d="M 249.428571 299.787726 
L 237.229181 302.512589 
L 239.516567 302.001677 
L 238.209132 299.732103 
L 239.516567 302.001677 
z
" clip-path="url(#p71950203c7)" style="fill: #0000ff; stroke: #0000ff"/>
    <path d="M 260.816327 297.912726 
L 260.23692 298.004495 
L 259.714229 298.270819 
L 259.29942 298.685628 
L 259.033096 299.208319 
L 258.941327 299.787726 
L 259.033096 300.367132 
L 259.29942 300.889823 
L 259.714229 301.304632 
L 260.23692 301.570957 
L 260.816327 301.662726 
L 261.395733 301.570957 
L 261.918424 301.304632 
L 262.333233 300.889823 
L 262.599557 300.367132 
L 262.691327 299.787726 
L 262.599557 299.208319 
L 262.333233 298.685628 
L 261.918424 298.270819 
L 261.395733 298.004495 
L 260.816327 297.912726 
L 260.816327 297.912726 
L 261.395733 298.004495 
L 261.918424 298.270819 
L 262.333233 298.685628 
L 262.599557 299.208319 
L 262.691327 299.787726 
L 262.599557 300.367132 
L 262.333233 300.889823 
L 261.918424 301.304632 
L 261.395733 301.570957 
L 260.816327 301.662726 
L 260.23692 301.570957 
L 259.714229 301.304632 
L 259.29942 300.889823 
L 259.033096 300.367132 
L 258.941327 299.787726 
L 259.033096 299.208319 
L 259.29942 298.685628 
L 259.714229 298.270819 
L 260.23692 298.004495 
L 260.816327 297.912726 
z
" clip-path="url(#p71950203c7)" style="fill: #0000ff; stroke: #0000ff"/>
    <path d="M 272.204082 299.787726 
L 266.754343 288.538266 
L 267.776169 290.647539 
L 269.685453 288.8545 
L 267.776169 290.647539 
z
" clip-path="url(#p71950203c7)" style="fill: #0000ff; stroke: #0000ff"/>
    <path d="M 283.591837 299.787726 
L 273.357305 292.611072 
L 275.27628 293.956695 
L 276.071952 291.461247 
L 275.27628 293.956695 
z
" clip-path="url(#p71950203c7)" style="fill: #0000ff; stroke: #0000ff"/>
    <path d="M 294.979592 299.787726 
L 284.379613 293.162739 
L 286.367109 294.404924 
L 287.029608 291.870866 
L 286.367109 294.404924 
z
" clip-path="url(#p71950203c7)" style="fill: #0000ff; stroke: #0000ff"/>
    <path d="M 306.367347 299.787726 
L 297.840151 290.647872 
L 300.430193 286.094512 
L 297.840151 290.647872 
z
" clip-path="url(#p71950203c7)" style="fill: #0000ff; stroke: #0000ff"/>
    <path d="M 317.755102 299.787726 
L 310.02902 289.96135 
L 312.99381 285.64262 
L 310.02902 289.96135 
z
" clip-path="url(#p71950203c7)" style="fill: #0000ff; stroke: #0000ff"/>
    <path d="M 329.142857 299.787726 
L 321.018263 290.288201 
L 323.802499 285.850922 
L 321.018263 290.288201 
z
" clip-path="url(#p71950203c7)" style="fill: #0000ff; stroke: #0000ff"/>
    <path d="M 340.530612 299.787726 
L 332.312596 290.368903 
L 335.052873 285.904344 
L 332.312596 290.368903 
L 333.339848 291.546256 
L 334.709987 289.313977 
L 333.339848 291.546256 
z
" clip-path="url(#p71950203c7)" style="fill: #0000ff; stroke: #0000ff"/>
    <path d="M 351.918367 299.787726 
L 343.25001 290.78164 
L 345.768899 286.188536 
L 343.25001 290.78164 
z
" clip-path="url(#p71950203c7)" style="fill: #0000ff; stroke: #0000ff"/>
    <path d="M 363.306122 299.787726 
L 352.808479 293.001749 
L 354.776787 294.27412 
L 355.47788 291.750467 
L 354.776787 294.27412 
z
" clip-path="url(#p71950203c7)" style="fill: #0000ff; stroke: #0000ff"/>
    <path d="M 374.693878 299.787726 
L 363.951016 293.397036 
L 365.965302 294.59529 
L 366.572011 292.0473 
L 365.965302 294.59529 
z
" clip-path="url(#p71950203c7)" style="fill: #0000ff; stroke: #0000ff"/>
    <path d="M 386.081633 299.787726 
L 375.764373 292.73052 
L 377.698859 294.053746 
L 378.465471 291.549219 
L 377.698859 294.053746 
z
" clip-path="url(#p71950203c7)" style="fill: #0000ff; stroke: #0000ff"/>
    <path d="M 397.469388 299.787726 
L 385.618369 295.812384 
L 387.840435 296.55776 
L 387.894814 293.939098 
L 387.840435 296.55776 
z
" clip-path="url(#p71950203c7)" style="fill: #0000ff; stroke: #0000ff"/>
    <path d="M 408.857143 299.787726 
L 398.180627 293.286802 
L 399.446431 288.203581 
L 398.180627 293.286802 
z
" clip-path="url(#p71950203c7)" style="fill: #0000ff; stroke: #0000ff"/>
    <path d="M 420.244898 299.787726 
L 410.244898 292.287726 
L 411.994898 287.350226 
L 410.244898 292.287726 
z
" clip-path="url(#p71950203c7)" style="fill: #0000ff; stroke: #0000ff"/>
    <path d="M 431.632653 299.787726 
L 420.225 294.677397 
L 420.843175 289.475545 
L 420.225 294.677397 
z
" clip-path="url(#p71950203c7)" style="fill: #0000ff; stroke: #0000ff"/>
    <path d="M 443.020408 299.787726 
L 430.520408 299.787726 
L 428.957908 294.787726 
L 430.520408 299.787726 
z
" clip-path="url(#p71950203c7)" style="fill: #0000ff; stroke: #0000ff"/>
    <path d="M 454.408163 299.787726 
L 442.258218 296.850239 
L 444.536333 297.401018 
L 444.364458 294.787436 
L 444.536333 297.401018 
z
" clip-path="url(#p71950203c7)" style="fill: #0000ff; stroke: #0000ff"/>
    <path d="M 465.795918 299.787726 
L 453.911395 295.913696 
L 453.975442 290.675633 
L 453.911395 295.913696 
z
" clip-path="url(#p71950203c7)" style="fill: #0000ff; stroke: #0000ff"/>
    <path d="M 477.183673 299.787726 
L 464.962242 297.163492 
L 464.484256 291.94689 
L 464.962242 297.163492 
z
" clip-path="url(#p71950203c7)" style="fill: #0000ff; stroke: #0000ff"/>
    <path d="M 488.571429 299.787726 
L 476.264158 297.601155 
L 475.600378 292.404925 
L 476.264158 297.601155 
z
" clip-path="url(#p71950203c7)" style="fill: #0000ff; stroke: #0000ff"/>
    <path d="M 499.959184 299.787726 
L 487.466848 299.350056 
L 486.080374 294.298413 
L 487.466848 299.350056 
z
" clip-path="url(#p71950203c7)" style="fill: #0000ff; stroke: #0000ff"/>
    <path d="M 511.346939 299.787726 
L 498.849438 299.537776 
L 497.38723 294.507532 
L 498.849438 299.537776 
z
" clip-path="url(#p71950203c7)" style="fill: #0000ff; stroke: #0000ff"/>
    <path d="M 522.734694 299.787726 
L 510.359576 298.025209 
L 509.517693 292.854847 
L 510.359576 298.025209 
z
" clip-path="url(#p71950203c7)" style="fill: #0000ff; stroke: #0000ff"/>
    <path d="M 534.122449 299.787726 
L 521.725226 298.188084 
L 520.815429 293.029239 
L 521.725226 298.188084 
z
" clip-path="url(#p71950203c7)" style="fill: #0000ff; stroke: #0000ff"/>
    <path d="M 545.510204 299.787726 
L 533.650414 295.838628 
L 535.874124 296.579084 
L 535.922707 293.960307 
L 535.874124 296.579084 
z
" clip-path="url(#p71950203c7)" style="fill: #0000ff; stroke: #0000ff"/>
    <path d="M 556.897959 299.787726 
L 546.053397 293.571177 
L 548.086752 294.73678 
L 548.652277 292.179333 
L 548.086752 294.73678 
z
" clip-path="url(#p71950203c7)" style="fill: #0000ff; stroke: #0000ff"/>
    <path d="M 568.285714 299.787726 
L 556.463912 295.726324 
L 558.6805 296.487837 
L 558.753917 293.869639 
L 558.6805 296.487837 
z
" clip-path="url(#p71950203c7)" style="fill: #0000ff; stroke: #0000ff"/>
    <path d="M 579.673469 299.787726 
L 568.424009 294.337987 
L 570.533283 295.359813 
L 570.92014 292.769313 
L 570.533283 295.359813 
z
" clip-path="url(#p71950203c7)" style="fill: #0000ff; stroke: #0000ff"/>
    <path d="M 591.061224 297.912726 
L 590.481818 298.004495 
L 589.959127 298.270819 
L 589.544318 298.685628 
L 589.277994 299.208319 
L 589.186224 299.787726 
L 589.277994 300.367132 
L 589.544318 300.889823 
L 589.959127 301.304632 
L 590.481818 301.570957 
L 591.061224 301.662726 
L 591.640631 301.570957 
L 592.163322 301.304632 
L 592.578131 300.889823 
L 592.844455 300.367132 
L 592.936224 299.787726 
L 592.844455 299.208319 
L 592.578131 298.685628 
L 592.163322 298.270819 
L 591.640631 298.004495 
L 591.061224 297.912726 
L 591.061224 297.912726 
L 591.640631 298.004495 
L 592.163322 298.270819 
L 592.578131 298.685628 
L 592.844455 299.208319 
L 592.936224 299.787726 
L 592.844455 300.367132 
L 592.578131 300.889823 
L 592.163322 301.304632 
L 591.640631 301.570957 
L 591.061224 301.662726 
L 590.481818 301.570957 
L 589.959127 301.304632 
L 589.544318 300.889823 
L 589.277994 300.367132 
L 589.186224 299.787726 
L 589.277994 299.208319 
L 589.544318 298.685628 
L 589.959127 298.270819 
L 590.481818 298.004495 
L 591.061224 297.912726 
z
" clip-path="url(#p71950203c7)" style="fill: #0000ff; stroke: #0000ff"/>
    <path d="M 602.44898 297.912726 
L 601.869573 298.004495 
L 601.346882 298.270819 
L 600.932073 298.685628 
L 600.665749 299.208319 
L 600.57398 299.787726 
L 600.665749 300.367132 
L 600.932073 300.889823 
L 601.346882 301.304632 
L 601.869573 301.570957 
L 602.44898 301.662726 
L 603.028386 301.570957 
L 603.551077 301.304632 
L 603.965886 300.889823 
L 604.232211 300.367132 
L 604.32398 299.787726 
L 604.232211 299.208319 
L 603.965886 298.685628 
L 603.551077 298.270819 
L 603.028386 298.004495 
L 602.44898 297.912726 
L 602.44898 297.912726 
L 603.028386 298.004495 
L 603.551077 298.270819 
L 603.965886 298.685628 
L 604.232211 299.208319 
L 604.32398 299.787726 
L 604.232211 300.367132 
L 603.965886 300.889823 
L 603.551077 301.304632 
L 603.028386 301.570957 
L 602.44898 301.662726 
L 601.869573 301.570957 
L 601.346882 301.304632 
L 600.932073 300.889823 
L 600.665749 300.367132 
L 600.57398 299.787726 
L 600.665749 299.208319 
L 600.932073 298.685628 
L 601.346882 298.270819 
L 601.869573 298.004495 
L 602.44898 297.912726 
z
" clip-path="url(#p71950203c7)" style="fill: #0000ff; stroke: #0000ff"/>
    <path d="M 613.836735 299.787726 
L 625.139306 294.449011 
L 623.020074 295.45002 
L 624.794228 297.376865 
L 623.020074 295.45002 
z
" clip-path="url(#p71950203c7)" style="fill: #0000ff; stroke: #0000ff"/>
    <path d="M 625.22449 299.787726 
L 636.543778 294.484545 
L 634.421411 295.478892 
L 636.189503 297.411301 
L 634.421411 295.478892 
z
" clip-path="url(#p71950203c7)" style="fill: #0000ff; stroke: #0000ff"/>
    <path d="M 636.612245 299.787726 
L 648.953139 297.799679 
L 646.639221 298.172438 
L 647.808137 300.516364 
L 646.639221 298.172438 
z
" clip-path="url(#p71950203c7)" style="fill: #0000ff; stroke: #0000ff"/>
   </g>
<g id="Barbs_1b">
    <path d="M 101.387755 299.787726 
L 101.387755 312.287726 
L 101.387755 309.943976 
L 98.887755 310.725226 
L 101.387755 309.943976 
z
" clip-path="url(#p71950203c7)" style="fill: #0000ff; stroke: #0000ff"/>
    <path d="M 112.77551 299.787726 
L 118.564849 310.866244 
L 117.479348 308.789021 
L 115.625478 310.639297 
L 117.479348 308.789021 
z
" clip-path="url(#p71950203c7)" style="fill: #0000ff; stroke: #0000ff"/>
    <path d="M 124.163265 299.787726 
L 113.548563 306.389096 
L 109.581177 302.968386 
L 113.548563 306.389096 
z
" clip-path="url(#p71950203c7)" style="fill: #0000ff; stroke: #0000ff"/>
    <path d="M 135.55102 299.787726 
L 124.154809 304.923518 
L 126.291599 303.960557 
L 124.552177 302.002302 
L 126.291599 303.960557 
z
" clip-path="url(#p71950203c7)" style="fill: #0000ff; stroke: #0000ff"/>
    <path d="M 146.938776 299.787726 
L 135.917676 305.685638 
L 132.180874 302.014438 
L 135.917676 305.685638 
z
" clip-path="url(#p71950203c7)" style="fill: #0000ff; stroke: #0000ff"/>
    <path d="M 158.326531 299.787726 
L 146.842395 304.72378 
L 148.99567 303.798269 
L 147.290701 301.809946 
L 148.99567 303.798269 
z
" clip-path="url(#p71950203c7)" style="fill: #0000ff; stroke: #0000ff"/>
    <path d="M 169.714286 299.787726 
L 173.592001 287.904404 
L 172.864929 290.132527 
L 175.483951 290.165363 
L 172.864929 290.132527 
z
" clip-path="url(#p71950203c7)" style="fill: #0000ff; stroke: #0000ff"/>
    <path d="M 181.102041 299.787726 
L 168.844782 302.239177 
L 166.332044 297.642705 
L 168.844782 302.239177 
z
" clip-path="url(#p71950203c7)" style="fill: #0000ff; stroke: #0000ff"/>
    <path d="M 192.489796 299.787726 
L 181.838926 293.24487 
L 183.124709 288.166665 
L 181.838926 293.24487 
z
" clip-path="url(#p71950203c7)" style="fill: #0000ff; stroke: #0000ff"/>
    <path d="M 203.877551 299.787726 
L 192.732415 294.127696 
L 194.822128 295.188951 
L 195.257563 292.606172 
L 194.822128 295.188951 
z
" clip-path="url(#p71950203c7)" style="fill: #0000ff; stroke: #0000ff"/>
    <path d="M 215.265306 297.912726 
L 214.685899 298.004495 
L 214.163209 298.270819 
L 213.748399 298.685628 
L 213.482075 299.208319 
L 213.390306 299.787726 
L 213.482075 300.367132 
L 213.748399 300.889823 
L 214.163209 301.304632 
L 214.685899 301.570957 
L 215.265306 301.662726 
L 215.844713 301.570957 
L 216.367403 301.304632 
L 216.782213 300.889823 
L 217.048537 300.367132 
L 217.140306 299.787726 
L 217.048537 299.208319 
L 216.782213 298.685628 
L 216.367403 298.270819 
L 215.844713 298.004495 
L 215.265306 297.912726 
L 215.265306 297.912726 
L 215.844713 298.004495 
L 216.367403 298.270819 
L 216.782213 298.685628 
L 217.048537 299.208319 
L 217.140306 299.787726 
L 217.048537 300.367132 
L 216.782213 300.889823 
L 216.367403 301.304632 
L 215.844713 301.570957 
L 215.265306 301.662726 
L 214.685899 301.570957 
L 214.163209 301.304632 
L 213.748399 300.889823 
L 213.482075 300.367132 
L 213.390306 299.787726 
L 213.482075 299.208319 
L 213.748399 298.685628 
L 214.163209 298.270819 
L 214.685899 298.004495 
L 215.265306 297.912726 
z
" clip-path="url(#p71950203c7)" style="fill: #0000ff; stroke: #0000ff"/>
    <path d="M 226.653061 297.912726 
L 226.073654 298.004495 
L 225.550964 298.270819 
L 225.136154 298.685628 
L 224.86983 299.208319 
L 224.778061 299.787726 
L 224.86983 300.367132 
L 225.136154 300.889823 
L 225.550964 301.304632 
L 226.073654 301.570957 
L 226.653061 301.662726 
L 227.232468 301.570957 
L 227.755159 301.304632 
L 228.169968 300.889823 
L 228.436292 300.367132 
L 228.528061 299.787726 
L 228.436292 299.208319 
L 228.169968 298.685628 
L 227.755159 298.270819 
L 227.232468 298.004495 
L 226.653061 297.912726 
L 226.653061 297.912726 
L 227.232468 298.004495 
L 227.755159 298.270819 
L 228.169968 298.685628 
L 228.436292 299.208319 
L 228.528061 299.787726 
L 228.436292 300.367132 
L 228.169968 300.889823 
L 227.755159 301.304632 
L 227.232468 301.570957 
L 226.653061 301.662726 
L 226.073654 301.570957 
L 225.550964 301.304632 
L 225.136154 300.889823 
L 224.86983 300.367132 
L 224.778061 299.787726 
L 224.86983 299.208319 
L 225.136154 298.685628 
L 225.550964 298.270819 
L 226.073654 298.004495 
L 226.653061 297.912726 
z
" clip-path="url(#p71950203c7)" style="fill: #0000ff; stroke: #0000ff"/>
    <path d="M 238.040816 299.787726 
L 226.157495 303.665441 
L 228.385618 302.938369 
L 226.867367 300.804062 
L 228.385618 302.938369 
z
" clip-path="url(#p71950203c7)" style="fill: #0000ff; stroke: #0000ff"/>
    <path d="M 249.428571 299.787726 
L 237.229181 302.512589 
L 239.516567 302.001677 
L 238.209132 299.732103 
L 239.516567 302.001677 
z
" clip-path="url(#p71950203c7)" style="fill: #0000ff; stroke: #0000ff"/>
    <path d="M 260.816327 297.912726 
L 260.23692 298.004495 
L 259.714229 298.270819 
L 259.29942 298.685628 
L 259.033096 299.208319 
L 258.941327 299.787726 
L 259.033096 300.367132 
L 259.29942 300.889823 
L 259.714229 301.304632 
L 260.23692 301.570957 
L 260.816327 301.662726 
L 261.395733 301.570957 
L 261.918424 301.304632 
L 262.333233 300.889823 
L 262.599557 300.367132 
L 262.691327 299.787726 
L 262.599557 299.208319 
L 262.333233 298.685628 
L 261.918424 298.270819 
L 261.395733 298.004495 
L 260.816327 297.912726 
L 260.816327 297.912726 
L 261.395733 298.004495 
L 261.918424 298.270819 
L 262.333233 298.685628 
L 262.599557 299.208319 
L 262.691327 299.787726 
L 262.599557 300.367132 
L 262.333233 300.889823 
L 261.918424 301.304632 
L 261.395733 301.570957 
L 260.816327 301.662726 
L 260.23692 301.570957 
L 259.714229 301.304632 
L 259.29942 300.889823 
L 259.033096 300.367132 
L 258.941327 299.787726 
L 259.033096 299.208319 
L 259.29942 298.685628 
L 259.714229 298.270819 
L 260.23692 298.004495 
L 260.816327 297.912726 
z
" clip-path="url(#p71950203c7)" style="fill: #0000ff; stroke: #0000ff"/>
    <path d="M 272.204082 299.787726 
L 266.754343 288.538266 
L 267.776169 290.647539 
L 269.685453 288.8545 
L 267.776169 290.647539 
z
" clip-path="url(#p71950203c7)" style="fill: #0000ff; stroke: #0000ff"/>
    <path d="M 283.591837 299.787726 
L 273.357305 292.611072 
L 275.27628 293.956695 
L 276.071952 291.461247 
L 275.27628 293.956695 
z
" clip-path="url(#p71950203c7)" style="fill: #0000ff; stroke: #0000ff"/>
    <path d="M 294.979592 299.787726 
L 284.379613 293.162739 
L 286.367109 294.404924 
L 287.029608 291.870866 
L 286.367109 294.404924 
z
" clip-path="url(#p71950203c7)" style="fill: #0000ff; stroke: #0000ff"/>
    <path d="M 306.367347 299.787726 
L 297.840151 290.647872 
L 300.430193 286.094512 
L 297.840151 290.647872 
z
" clip-path="url(#p71950203c7)" style="fill: #0000ff; stroke: #0000ff"/>
    <path d="M 317.755102 299.787726 
L 310.02902 289.96135 
L 312.99381 285.64262 
L 310.02902 289.96135 
z
" clip-path="url(#p71950203c7)" style="fill: #0000ff; stroke: #0000ff"/>
    <path d="M 329.142857 299.787726 
L 321.018263 290.288201 
L 323.802499 285.850922 
L 321.018263 290.288201 
z
" clip-path="url(#p71950203c7)" style="fill: #0000ff; stroke: #0000ff"/>
    <path d="M 340.530612 299.787726 
L 332.312596 290.368903 
L 335.052873 285.904344 
L 332.312596 290.368903 
L 333.339848 291.546256 
L 334.709987 289.313977 
L 333.339848 291.546256 
z
" clip-path="url(#p71950203c7)" style="fill: #0000ff; stroke: #0000ff"/>
    <path d="M 351.918367 299.787726 
L 343.25001 290.78164 
L 345.768899 286.188536 
L 343.25001 290.78164 
z
" clip-path="url(#p71950203c7)" style="fill: #0000ff; stroke: #0000ff"/>
    <path d="M 363.306122 299.787726 
L 352.808479 293.001749 
L 354.776787 294.27412 
L 355.47788 291.750467 
L 354.776787 294.27412 
z
" clip-path="url(#p71950203c7)" style="fill: #0000ff; stroke: #0000ff"/>
    <path d="M 374.693878 299.787726 
L 363.951016 293.397036 
L 365.965302 294.59529 
L 366.572011 292.0473 
L 365.965302 294.59529 
z
" clip-path="url(#p71950203c7)" style="fill: #0000ff; stroke: #0000ff"/>
    <path d="M 386.081633 299.787726 
L 375.764373 292.73052 
L 377.698859 294.053746 
L 378.465471 291.549219 
L 377.698859 294.053746 
z
" clip-path="url(#p71950203c7)" style="fill: #0000ff; stroke: #0000ff"/>
    <path d="M 397.469388 299.787726 
L 385.618369 295.812384 
L 387.840435 296.55776 
L 387.894814 293.939098 
L 387.840435 296.55776 
z
" clip-path="url(#p71950203c7)" style="fill: #0000ff; stroke: #0000ff"/>
    <path d="M 408.857143 299.787726 
L 398.180627 293.286802 
L 399.446431 288.203581 
L 398.180627 293.286802 
z
" clip-path="url(#p71950203c7)" style="fill: #0000ff; stroke: #0000ff"/>
    <path d="M 420.244898 299.787726 
L 410.244898 292.287726 
L 411.994898 287.350226 
L 410.244898 292.287726 
z
" clip-path="url(#p71950203c7)" style="fill: #0000ff; stroke: #0000ff"/>
    <path d="M 431.632653 299.787726 
L 420.225 294.677397 
L 420.843175 289.475545 
L 420.225 294.677397 
z
" clip-path="url(#p71950203c7)" style="fill: #0000ff; stroke: #0000ff"/>
    <path d="M 443.020408 299.787726 
L 430.520408 299.787726 
L 428.957908 294.787726 
L 430.520408 299.787726 
z
" clip-path="url(#p71950203c7)" style="fill: #0000ff; stroke: #0000ff"/>
    <path d="M 454.408163 299.787726 
L 442.258218 296.850239 
L 444.536333 297.401018 
L 444.364458 294.787436 
L 444.536333 297.401018 
z
" clip-path="url(#p71950203c7)" style="fill: #0000ff; stroke: #0000ff"/>
    <path d="M 465.795918 299.787726 
L 453.911395 295.913696 
L 453.975442 290.675633 
L 453.911395 295.913696 
z
" clip-path="url(#p71950203c7)" style="fill: #0000ff; stroke: #0000ff"/>
    <path d="M 477.183673 299.787726 
L 464.962242 297.163492 
L 464.484256 291.94689 
L 464.962242 297.163492 
z
" clip-path="url(#p71950203c7)" style="fill: #0000ff; stroke: #0000ff"/>
    <path d="M 488.571429 299.787726 
L 476.264158 297.601155 
L 475.600378 292.404925 
L 476.264158 297.601155 
z
" clip-path="url(#p71950203c7)" style="fill: #0000ff; stroke: #0000ff"/>
    <path d="M 499.959184 299.787726 
L 487.466848 299.350056 
L 486.080374 294.298413 
L 487.466848 299.350056 
z
" clip-path="url(#p71950203c7)" style="fill: #0000ff; stroke: #0000ff"/>
    <path d="M 511.346939 299.787726 
L 498.849438 299.537776 
L 497.38723 294.507532 
L 498.849438 299.537776 
z
" clip-path="url(#p71950203c7)" style="fill: #0000ff; stroke: #0000ff"/>
    <path d="M 522.734694 299.787726 
L 510.359576 298.025209 
L 509.517693 292.854847 
L 510.359576 298.025209 
z
" clip-path="url(#p71950203c7)" style="fill: #0000ff; stroke: #0000ff"/>
    <path d="M 534.122449 299.787726 
L 521.725226 298.188084 
L 520.815429 293.029239 
L 521.725226 298.188084 
z
" clip-path="url(#p71950203c7)" style="fill: #0000ff; stroke: #0000ff"/>
    <path d="M 545.510204 299.787726 
L 533.650414 295.838628 
L 535.874124 296.579084 
L 535.922707 293.960307 
L 535.874124 296.579084 
z
" clip-path="url(#p71950203c7)" style="fill: #0000ff; stroke: #0000ff"/>
    <path d="M 556.897959 299.787726 
L 546.053397 293.571177 
L 548.086752 294.73678 
L 548.652277 292.179333 
L 548.086752 294.73678 
z
" clip-path="url(#p71950203c7)" style="fill: #0000ff; stroke: #0000ff"/>
    <path d="M 568.285714 299.787726 
L 556.463912 295.726324 
L 558.6805 296.487837 
L 558.753917 293.869639 
L 558.6805 296.487837 
z
" clip-path="url(#p71950203c7)" style="fill: #0000ff; stroke: #0000ff"/>
    <path d="M 579.673469 299.787726 
L 568.424009 294.337987 
L 570.533283 295.359813 
L 570.92014 292.769313 
L 570.533283 295.359813 
z
" clip-path="url(#p71950203c7)" style="fill: #0000ff; stroke: #0000ff"/>
    <path d="M 591.061224 297.912726 
L 590.481818 298.004495 
L 589.959127 298.270819 
L 589.544318 298.685628 
L 589.277994 299.208319 
L 589.186224 299.787726 
L 589.277994 300.367132 
L 589.544318 300.889823 
L 589.959127 301.304632 
L 590.481818 301.570957 
L 591.061224 301.662726 
L 591.640631 301.570957 
L 592.163322 301.304632 
L 592.578131 300.889823 
L 592.844455 300.367132 
L 592.936224 299.787726 
L 592.844455 299.208319 
L 592.578131 298.685628 
L 592.163322 298.270819 
L 591.640631 298.004495 
L 591.061224 297.912726 
L 591.061224 297.912726 
L 591.640631 298.004495 
L 592.163322 298.270819 
L 592.578131 298.685628 
L 592.844455 299.208319 
L 592.936224 299.787726 
L 592.844455 300.367132 
L 592.578131 300.889823 
L 592.163322 301.304632 
L 591.640631 301.570957 
L 591.061224 301.662726 
L 590.481818 301.570957 
L 589.959127 301.304632 
L 589.544318 300.889823 
L 589.277994 300.367132 
L 589.186224 299.787726 
L 589.277994 299.208319 
L 589.544318 298.685628 
L 589.959127 298.270819 
L 590.481818 298.004495 
L 591.061224 297.912726 
z
" clip-path="url(#p71950203c7)" style="fill: #0000ff; stroke: #0000ff"/>
    <path d="M 602.44898 297.912726 
L 601.869573 298.004495 
L 601.346882 298.270819 
L 600.932073 298.685628 
L 600.665749 299.208319 
L 600.57398 299.787726 
L 600.665749 300.367132 
L 600.932073 300.889823 
L 601.346882 301.304632 
L 601.869573 301.570957 
L 602.44898 301.662726 
L 603.028386 301.570957 
L 603.551077 301.304632 
L 603.965886 300.889823 
L 604.232211 300.367132 
L 604.32398 299.787726 
L 604.232211 299.208319 
L 603.965886 298.685628 
L 603.551077 298.270819 
L 603.028386 298.004495 
L 602.44898 297.912726 
L 602.44898 297.912726 
L 603.028386 298.004495 
L 603.551077 298.270819 
L 603.965886 298.685628 
L 604.232211 299.208319 
L 604.32398 299.787726 
L 604.232211 300.367132 
L 603.965886 300.889823 
L 603.551077 301.304632 
L 603.028386 301.570957 
L 602.44898 301.662726 
L 601.869573 301.570957 
L 601.346882 301.304632 
L 600.932073 300.889823 
L 600.665749 300.367132 
L 600.57398 299.787726 
L 600.665749 299.208319 
L 600.932073 298.685628 
L 601.346882 298.270819 
L 601.869573 298.004495 
L 602.44898 297.912726 
z
" clip-path="url(#p71950203c7)" style="fill: #0000ff; stroke: #0000ff"/>
    <path d="M 613.836735 299.787726 
L 625.139306 294.449011 
L 623.020074 295.45002 
L 624.794228 297.376865 
L 623.020074 295.45002 
z
" clip-path="url(#p71950203c7)" style="fill: #0000ff; stroke: #0000ff"/>
    <path d="M 625.22449 299.787726 
L 636.543778 294.484545 
L 634.421411 295.478892 
L 636.189503 297.411301 
L 634.421411 295.478892 
z
" clip-path="url(#p71950203c7)" style="fill: #0000ff; stroke: #0000ff"/>
    <path d="M 636.612245 299.787726 
L 648.953139 297.799679 
L 646.639221 298.172438 
L 647.808137 300.516364 
L 646.639221 298.172438 
z
" clip-path="url(#p71950203c7)" style="fill: #0000ff; stroke: #0000ff"/>
   </g>
   <g id="matplotlib.axis_3">
    <g id="xtick_10">
     <g id="line2d_17">
      <g>
       <use href="#m32e9f8ea44" x="90.3600" y="326.5200" style="stroke: #000000; stroke-width: 0.8"/>
      </g>
     </g>
    </g>
    <g id="xtick_11">
     <g id="line2d_18">
      <g>
       <use href="#m32e9f8ea44" x="158.7600" y="326.5200" style="stroke: #000000; stroke-width: 0.8"/>
      </g>
     </g>
    </g>
    <g id="xtick_12">
     <g id="line2d_19">
      <g>
       <use href="#m32e9f8ea44" x="227.1600" y="326.5200" style="stroke: #000000; stroke-width: 0.8"/>
      </g>
     </g>
    </g>
    <g id="xtick_13">
     <g id="line2d_20">
      <g>
       <use href="#m32e9f8ea44" x="295.5600" y="326.5200" style="stroke: #000000; stroke-width: 0.8"/>
      </g>
     </g>
    </g>
    <g id="xtick_14">
     <g id="line2d_21">
      <g>
       <use href="#m32e9f8ea44" x="363.9600" y="326.5200" style="stroke: #000000; stroke-width: 0.8"/>
      </g>
     </g>
    </g>
    <g id="xtick_15">
     <g id="line2d_22">
      <g>
       <use href="#m32e9f8ea44" x="431.6400" y="326.5200" style="stroke: #000000; stroke-width: 0.8"/>
      </g>
     </g>
    </g>
    <g id="xtick_16">
     <g id="line2d_23">
      <g>
       <use href="#m32e9f8ea44" x="500.0400" y="326.5200" style="stroke: #000000; stroke-width: 0.8"/>
      </g>
     </g>
    </g>
    <g id="xtick_17">
     <g id="line2d_24">
      <g>
       <use href="#m32e9f8ea44" x="568.4400" y="326.5200" style="stroke: #000000; stroke-width: 0.8"/>
      </g>
     </g>
    </g>
    <g id="xtick_18">
     <g id="line2d_25">
      <g>
       <use href="#m32e9f8ea44" x="636.8400" y="326.5200" style="stroke: #000000; stroke-width: 0.8"/>
      </g>
     </g>
    </g>
   </g>
   <g id="matplotlib.axis_4">
    <g id="ytick_5">
     <g id="line2d_26">
      <g>
       <use href="#mfa02ca06f7" x="90.3600" y="326.5200" style="stroke: #000000; stroke-width: 0.8"/>
      </g>
     </g>
     <g id="text_102">
      <text style="font-size: 10px; font-family: 'DejaVu Sans', 'Liberation Sans', sans-serif; text-anchor: end" x="83.2160" y="330.318621">−10</text>
     </g>
    </g>
    <g id="ytick_6">
     <g id="line2d_27">
      <g>
       <use href="#mfa02ca06f7" x="90.3600" y="289.0800" style="stroke: #000000; stroke-width: 0.8"/>
      </g>
     </g>
     <g id="text_103">
      <text style="font-size: 10px; font-family: 'DejaVu Sans', 'Liberation Sans', sans-serif; text-anchor: end" x="83.2160" y="292.360199">0</text>
     </g>
    </g>
    <g id="ytick_7">
     <g id="line2d_28">
      <g>
       <use href="#mfa02ca06f7" x="90.3600" y="250.9200" style="stroke: #000000; stroke-width: 0.8"/>
      </g>
     </g>
     <g id="text_104">
      <text style="font-size: 10px; font-family: 'DejaVu Sans', 'Liberation Sans', sans-serif; text-anchor: end" x="83.2160" y="254.401778">10</text>
     </g>
    </g>
    <g id="text_105">
     <text style="font-size: 10px; font-family: 'DejaVu Sans', 'Liberation Sans', sans-serif; text-anchor: middle" x="55.0600" y="274.5062" transform="rotate(-90 55.0600 274.5062)">Max Wind (mph)</text>
    </g>
   </g>
   <g id="line2d_29">
    <path d="M 101.387755 270.648 
L 112.77551 267.768 
L 124.163265 249.768 
L 135.55102 251.208 
L 146.938776 252.648 
L 158.326531 254.088 
L 169.714286 258.408 
L 181.102041 251.64 
L 192.489796 251.208 
L 203.877551 253.368 
L 215.265306 264.888 
L 226.653061 277.848 
L 238.040816 267.048 
L 249.428571 269.208 
L 260.816327 272.088 
L 272.204082 270.648 
L 283.591837 261.288 
L 294.979592 261.288 
L 306.367347 242.568 
L 317.755102 233.398446 
L 329.142857 233.784 
L 340.530612 233.208 
L 351.918367 232.488 
L 363.306122 243.288 
L 374.693878 267.768 
L 386.081633 264.168 
L 397.469388 261.288 
L 408.857143 254.088 
L 420.244898 238.248 
L 431.632653 238.248 
L 443.020408 242.568 
L 454.408163 251.928 
L 465.795918 248.328 
L 477.183673 249.048 
L 488.571429 254.808 
L 499.959184 253.368 
L 511.346939 250.92 
L 522.734694 245.448 
L 534.122449 244.785973 
L 545.510204 251.208 
L 556.897959 256.968 
L 568.285714 258.408 
L 579.673469 264.888 
L 591.061224 273.528 
L 602.44898 279 
L 613.836735 270.36 
L 625.22449 269.208 
L 636.612245 269.928 
" clip-path="url(#p71950203c7)" style="fill: none; stroke: #0000ff; stroke-width: 1.5; stroke-linecap: square"/>
    <defs>
     <path id="m7abbdf40ed" d="M 0 1.5 
C 0.397805 1.5 0.77937 1.341951 1.06066 1.06066 
C 1.341951 0.77937 1.5 0.397805 1.5 0 
C 1.5 -0.397805 1.341951 -0.77937 1.06066 -1.06066 
C 0.77937 -1.341951 0.397805 -1.5 0 -1.5 
C -0.397805 -1.5 -0.77937 -1.341951 -1.06066 -1.06066 
C -1.341951 -0.77937 -1.5 -0.397805 -1.5 0 
C -1.5 0.397805 -1.341951 0.77937 -1.06066 1.06066 
C -0.77937 1.341951 -0.397805 1.5 0 1.5 
z
" style="stroke: #0000ff"/>
    </defs>
    <g clip-path="url(#p71950203c7)">
     <use href="#m7abbdf40ed" x="101.8800" y="271.0800" style="fill: #0000ff; stroke: #0000ff"/>
     <use href="#m7abbdf40ed" x="113.4000" y="268.2000" style="fill: #0000ff; stroke: #0000ff"/>
     <use href="#m7abbdf40ed" x="124.2000" y="250.2000" style="fill: #0000ff; stroke: #0000ff"/>
     <use href="#m7abbdf40ed" x="135.7200" y="251.6400" style="fill: #0000ff; stroke: #0000ff"/>
     <use href="#m7abbdf40ed" x="147.2400" y="253.0800" style="fill: #0000ff; stroke: #0000ff"/>
     <use href="#m7abbdf40ed" x="158.7600" y="254.5200" style="fill: #0000ff; stroke: #0000ff"/>
     <use href="#m7abbdf40ed" x="170.2800" y="258.8400" style="fill: #0000ff; stroke: #0000ff"/>
     <use href="#m7abbdf40ed" x="181.8000" y="251.6400" style="fill: #0000ff; stroke: #0000ff"/>
     <use href="#m7abbdf40ed" x="192.6000" y="251.6400" style="fill: #0000ff; stroke: #0000ff"/>
     <use href="#m7abbdf40ed" x="204.1200" y="253.8000" style="fill: #0000ff; stroke: #0000ff"/>
     <use href="#m7abbdf40ed" x="215.6400" y="265.3200" style="fill: #0000ff; stroke: #0000ff"/>
     <use href="#m7abbdf40ed" x="227.1600" y="278.2800" style="fill: #0000ff; stroke: #0000ff"/>
     <use href="#m7abbdf40ed" x="238.6800" y="267.4800" style="fill: #0000ff; stroke: #0000ff"/>
     <use href="#m7abbdf40ed" x="249.4800" y="269.6400" style="fill: #0000ff; stroke: #0000ff"/>
     <use href="#m7abbdf40ed" x="261.0000" y="272.5200" style="fill: #0000ff; stroke: #0000ff"/>
     <use href="#m7abbdf40ed" x="272.5200" y="271.0800" style="fill: #0000ff; stroke: #0000ff"/>
     <use href="#m7abbdf40ed" x="284.0400" y="261.7200" style="fill: #0000ff; stroke: #0000ff"/>
     <use href="#m7abbdf40ed" x="295.5600" y="261.7200" style="fill: #0000ff; stroke: #0000ff"/>
     <use href="#m7abbdf40ed" x="307.0800" y="243.0000" style="fill: #0000ff; stroke: #0000ff"/>
     <use href="#m7abbdf40ed" x="317.8800" y="233.6400" style="fill: #0000ff; stroke: #0000ff"/>
     <use href="#m7abbdf40ed" x="329.4000" y="234.3600" style="fill: #0000ff; stroke: #0000ff"/>
     <use href="#m7abbdf40ed" x="340.9200" y="233.6400" style="fill: #0000ff; stroke: #0000ff"/>
     <use href="#m7abbdf40ed" x="352.4400" y="232.9200" style="fill: #0000ff; stroke: #0000ff"/>
     <use href="#m7abbdf40ed" x="363.9600" y="243.7200" style="fill: #0000ff; stroke: #0000ff"/>
     <use href="#m7abbdf40ed" x="374.7600" y="268.2000" style="fill: #0000ff; stroke: #0000ff"/>
     <use href="#m7abbdf40ed" x="386.2800" y="264.6000" style="fill: #0000ff; stroke: #0000ff"/>
     <use href="#m7abbdf40ed" x="397.8000" y="261.7200" style="fill: #0000ff; stroke: #0000ff"/>
     <use href="#m7abbdf40ed" x="409.3200" y="254.5200" style="fill: #0000ff; stroke: #0000ff"/>
     <use href="#m7abbdf40ed" x="420.8400" y="238.6800" style="fill: #0000ff; stroke: #0000ff"/>
     <use href="#m7abbdf40ed" x="431.6400" y="238.6800" style="fill: #0000ff; stroke: #0000ff"/>
     <use href="#m7abbdf40ed" x="443.1600" y="243.0000" style="fill: #0000ff; stroke: #0000ff"/>
     <use href="#m7abbdf40ed" x="454.6800" y="252.3600" style="fill: #0000ff; stroke: #0000ff"/>
     <use href="#m7abbdf40ed" x="466.2000" y="248.7600" style="fill: #0000ff; stroke: #0000ff"/>
     <use href="#m7abbdf40ed" x="477.7200" y="249.4800" style="fill: #0000ff; stroke: #0000ff"/>
     <use href="#m7abbdf40ed" x="489.2400" y="255.2400" style="fill: #0000ff; stroke: #0000ff"/>
     <use href="#m7abbdf40ed" x="500.0400" y="253.8000" style="fill: #0000ff; stroke: #0000ff"/>
     <use href="#m7abbdf40ed" x="511.5600" y="250.9200" style="fill: #0000ff; stroke: #0000ff"/>
     <use href="#m7abbdf40ed" x="523.0800" y="245.8800" style="fill: #0000ff; stroke: #0000ff"/>
     <use href="#m7abbdf40ed" x="534.6000" y="245.1600" style="fill: #0000ff; stroke: #0000ff"/>
     <use href="#m7abbdf40ed" x="546.1200" y="251.6400" style="fill: #0000ff; stroke: #0000ff"/>
     <use href="#m7abbdf40ed" x="556.9200" y="257.4000" style="fill: #0000ff; stroke: #0000ff"/>
     <use href="#m7abbdf40ed" x="568.4400" y="258.8400" style="fill: #0000ff; stroke: #0000ff"/>
     <use href="#m7abbdf40ed" x="579.9600" y="265.3200" style="fill: #0000ff; stroke: #0000ff"/>
     <use href="#m7abbdf40ed" x="591.4800" y="273.9600" style="fill: #0000ff; stroke: #0000ff"/>
     <use href="#m7abbdf40ed" x="603.0000" y="279.7200" style="fill: #0000ff; stroke: #0000ff"/>
     <use href="#m7abbdf40ed" x="614.5200" y="271.0800" style="fill: #0000ff; stroke: #0000ff"/>
     <use href="#m7abbdf40ed" x="625.3200" y="269.6400" style="fill: #0000ff; stroke: #0000ff"/>
     <use href="#m7abbdf40ed" x="636.8400" y="270.3600" style="fill: #0000ff; stroke: #0000ff"/>
    </g>
   </g>
   <g id="patch_8">
    <path d="M 90.3600 326.5200 L 90.3600 221.4000" style="fill: none; stroke: #000000; stroke-width: 0.8; stroke-linejoin: miter; stroke-linecap: square"/>
   </g>
   <g id="patch_9">
    <path d="M 648.3600 326.5200 L 648.3600 221.4000" style="fill: none; stroke: #000000; stroke-width: 0.8; stroke-linejoin: miter; stroke-linecap: square"/>
   </g>
   <g id="patch_10">
    <path d="M 90.3600 326.5200 L 648.3600 326.5200" style="fill: none; stroke: #000000; stroke-width: 0.8; stroke-linejoin: miter; stroke-linecap: square"/>
   </g>
   <g id="patch_11">
    <path d="M 90.3600 221.4000 L 648.3600 221.4000" style="fill: none; stroke: #000000; stroke-width: 0.8; stroke-linejoin: miter; stroke-linecap: square"/>
   </g>
   <g id="text_106">
    <text style="font-size: 7px; font-family: 'DejaVu Sans', 'Liberation Sans', sans-serif; text-anchor: start; fill: #0000ff" x="100.2528" y="267.1200">5</text>
   </g>
   <g id="text_107">
    <text style="font-size: 7px; font-family: 'DejaVu Sans', 'Liberation Sans', sans-serif; text-anchor: start; fill: #0000ff" x="111.0528" y="264.2400">5</text>
   </g>
   <g id="text_108">
    <text style="font-size: 7px; font-family: 'DejaVu Sans', 'Liberation Sans', sans-serif; text-anchor: start; fill: #0000ff" x="121.6296" y="246.2400">10</text>
   </g>
   <g id="text_109">
    <text style="font-size: 7px; font-family: 'DejaVu Sans', 'Liberation Sans', sans-serif; text-anchor: start; fill: #0000ff" x="133.1496" y="247.6800">10</text>
   </g>
   <g id="text_110">
    <text style="font-size: 7px; font-family: 'DejaVu Sans', 'Liberation Sans', sans-serif; text-anchor: start; fill: #0000ff" x="145.7208" y="249.1200">9</text>
   </g>
   <g id="text_111">
    <text style="font-size: 7px; font-family: 'DejaVu Sans', 'Liberation Sans', sans-serif; text-anchor: start; fill: #0000ff" x="157.2408" y="250.5600">9</text>
   </g>
   <g id="text_112">
    <text style="font-size: 7px; font-family: 'DejaVu Sans', 'Liberation Sans', sans-serif; text-anchor: start; fill: #0000ff" x="168.0120" y="254.8800">8</text>
   </g>
   <g id="text_113">
    <text style="font-size: 7px; font-family: 'DejaVu Sans', 'Liberation Sans', sans-serif; text-anchor: start; fill: #0000ff" x="178.5096" y="247.6800">10</text>
   </g>
   <g id="text_114">
    <text style="font-size: 7px; font-family: 'DejaVu Sans', 'Liberation Sans', sans-serif; text-anchor: start; fill: #0000ff" x="190.0296" y="247.6800">10</text>
   </g>
   <g id="text_115">
    <text style="font-size: 7px; font-family: 'DejaVu Sans', 'Liberation Sans', sans-serif; text-anchor: start; fill: #0000ff" x="202.6008" y="249.8400">9</text>
   </g>
   <g id="text_116">
    <text style="font-size: 7px; font-family: 'DejaVu Sans', 'Liberation Sans', sans-serif; text-anchor: start; fill: #0000ff" x="214.0704" y="261.3600">6</text>
   </g>
   <g id="text_117">
    <text style="font-size: 7px; font-family: 'DejaVu Sans', 'Liberation Sans', sans-serif; text-anchor: start; fill: #0000ff" x="225.5328" y="274.3200">3</text>
   </g>
   <g id="text_118">
    <text style="font-size: 7px; font-family: 'DejaVu Sans', 'Liberation Sans', sans-serif; text-anchor: start; fill: #0000ff" x="236.3904" y="263.5200">6</text>
   </g>
   <g id="text_119">
    <text style="font-size: 7px; font-family: 'DejaVu Sans', 'Liberation Sans', sans-serif; text-anchor: start; fill: #0000ff" x="247.8528" y="265.6800">5</text>
   </g>
   <g id="text_120">
    <text style="font-size: 7px; font-family: 'DejaVu Sans', 'Liberation Sans', sans-serif; text-anchor: start; fill: #0000ff" x="259.5672" y="268.5600">4</text>
   </g>
   <g id="text_121">
    <text style="font-size: 7px; font-family: 'DejaVu Sans', 'Liberation Sans', sans-serif; text-anchor: start; fill: #0000ff" x="270.8928" y="267.1200">5</text>
   </g>
   <g id="text_122">
    <text style="font-size: 7px; font-family: 'DejaVu Sans', 'Liberation Sans', sans-serif; text-anchor: start; fill: #0000ff" x="282.3840" y="257.7600">7</text>
   </g>
   <g id="text_123">
    <text style="font-size: 7px; font-family: 'DejaVu Sans', 'Liberation Sans', sans-serif; text-anchor: start; fill: #0000ff" x="293.1840" y="257.7600">7</text>
   </g>
   <g id="text_124">
    <text style="font-size: 7px; font-family: 'DejaVu Sans', 'Liberation Sans', sans-serif; text-anchor: start; fill: #0000ff" x="303.7896" y="239.0400">12</text>
   </g>
   <g id="text_125">
    <text style="font-size: 7px; font-family: 'DejaVu Sans', 'Liberation Sans', sans-serif; text-anchor: start; fill: #0000ff" x="315.3096" y="229.6800">14</text>
   </g>
   <g id="text_126">
    <text style="font-size: 7px; font-family: 'DejaVu Sans', 'Liberation Sans', sans-serif; text-anchor: start; fill: #0000ff" x="326.8296" y="229.6800">14</text>
   </g>
   <g id="text_127">
    <text style="font-size: 7px; font-family: 'DejaVu Sans', 'Liberation Sans', sans-serif; text-anchor: start; fill: #0000ff" x="338.3496" y="229.6800">15</text>
   </g>
   <g id="text_128">
    <text style="font-size: 7px; font-family: 'DejaVu Sans', 'Liberation Sans', sans-serif; text-anchor: start; fill: #0000ff" x="349.8696" y="228.9600">15</text>
   </g>
   <g id="text_129">
    <text style="font-size: 7px; font-family: 'DejaVu Sans', 'Liberation Sans', sans-serif; text-anchor: start; fill: #0000ff" x="360.6696" y="239.7600">12</text>
   </g>
   <g id="text_130">
    <text style="font-size: 7px; font-family: 'DejaVu Sans', 'Liberation Sans', sans-serif; text-anchor: start; fill: #0000ff" x="373.1328" y="264.2400">5</text>
   </g>
   <g id="text_131">
    <text style="font-size: 7px; font-family: 'DejaVu Sans', 'Liberation Sans', sans-serif; text-anchor: start; fill: #0000ff" x="384.7104" y="260.6400">6</text>
   </g>
   <g id="text_132">
    <text style="font-size: 7px; font-family: 'DejaVu Sans', 'Liberation Sans', sans-serif; text-anchor: start; fill: #0000ff" x="396.1440" y="257.7600">7</text>
   </g>
   <g id="text_133">
    <text style="font-size: 7px; font-family: 'DejaVu Sans', 'Liberation Sans', sans-serif; text-anchor: start; fill: #0000ff" x="407.8008" y="250.5600">9</text>
   </g>
   <g id="text_134">
    <text style="font-size: 7px; font-family: 'DejaVu Sans', 'Liberation Sans', sans-serif; text-anchor: start; fill: #0000ff" x="417.5496" y="234.7200">13</text>
   </g>
   <g id="text_135">
    <text style="font-size: 7px; font-family: 'DejaVu Sans', 'Liberation Sans', sans-serif; text-anchor: start; fill: #0000ff" x="429.0696" y="234.7200">13</text>
   </g>
   <g id="text_136">
    <text style="font-size: 7px; font-family: 'DejaVu Sans', 'Liberation Sans', sans-serif; text-anchor: start; fill: #0000ff" x="440.5896" y="239.0400">12</text>
   </g>
   <g id="text_137">
    <text style="font-size: 7px; font-family: 'DejaVu Sans', 'Liberation Sans', sans-serif; text-anchor: start; fill: #0000ff" x="452.1096" y="248.4000">10</text>
   </g>
   <g id="text_138">
    <text style="font-size: 7px; font-family: 'DejaVu Sans', 'Liberation Sans', sans-serif; text-anchor: start; fill: #0000ff" x="463.6296" y="244.8000">11</text>
   </g>
   <g id="text_139">
    <text style="font-size: 7px; font-family: 'DejaVu Sans', 'Liberation Sans', sans-serif; text-anchor: start; fill: #0000ff" x="475.1496" y="245.5200">10</text>
   </g>
   <g id="text_140">
    <text style="font-size: 7px; font-family: 'DejaVu Sans', 'Liberation Sans', sans-serif; text-anchor: start; fill: #0000ff" x="487.0008" y="251.2800">9</text>
   </g>
   <g id="text_141">
    <text style="font-size: 7px; font-family: 'DejaVu Sans', 'Liberation Sans', sans-serif; text-anchor: start; fill: #0000ff" x="498.5208" y="249.8400">9</text>
   </g>
   <g id="text_142">
    <text style="font-size: 7px; font-family: 'DejaVu Sans', 'Liberation Sans', sans-serif; text-anchor: start; fill: #0000ff" x="508.9896" y="246.9600">10</text>
   </g>
   <g id="text_143">
    <text style="font-size: 7px; font-family: 'DejaVu Sans', 'Liberation Sans', sans-serif; text-anchor: start; fill: #0000ff" x="520.5096" y="241.9200">11</text>
   </g>
   <g id="text_144">
    <text style="font-size: 7px; font-family: 'DejaVu Sans', 'Liberation Sans', sans-serif; text-anchor: start; fill: #0000ff" x="532.0296" y="241.2000">11</text>
   </g>
   <g id="text_145">
    <text style="font-size: 7px; font-family: 'DejaVu Sans', 'Liberation Sans', sans-serif; text-anchor: start; fill: #0000ff" x="542.8296" y="247.6800">10</text>
   </g>
   <g id="text_146">
    <text style="font-size: 7px; font-family: 'DejaVu Sans', 'Liberation Sans', sans-serif; text-anchor: start; fill: #0000ff" x="555.3720" y="253.4400">8</text>
   </g>
   <g id="text_147">
    <text style="font-size: 7px; font-family: 'DejaVu Sans', 'Liberation Sans', sans-serif; text-anchor: start; fill: #0000ff" x="566.8920" y="254.8800">8</text>
   </g>
   <g id="text_148">
    <text style="font-size: 7px; font-family: 'DejaVu Sans', 'Liberation Sans', sans-serif; text-anchor: start; fill: #0000ff" x="578.3904" y="261.3600">6</text>
   </g>
   <g id="text_149">
    <text style="font-size: 7px; font-family: 'DejaVu Sans', 'Liberation Sans', sans-serif; text-anchor: start; fill: #0000ff" x="590.0472" y="270.0000">4</text>
   </g>
   <g id="text_150">
    <text style="font-size: 7px; font-family: 'DejaVu Sans', 'Liberation Sans', sans-serif; text-anchor: start; fill: #0000ff" x="601.3944" y="275.0400">2</text>
   </g>
   <g id="text_151">
    <text style="font-size: 7px; font-family: 'DejaVu Sans', 'Liberation Sans', sans-serif; text-anchor: start; fill: #0000ff" x="612.1728" y="266.4000">5</text>
   </g>
   <g id="text_152">
    <text style="font-size: 7px; font-family: 'DejaVu Sans', 'Liberation Sans', sans-serif; text-anchor: start; fill: #0000ff" x="623.6928" y="265.6800">5</text>
   </g>
   <g id="text_153">
    <text style="font-size: 7px; font-family: 'DejaVu Sans', 'Liberation Sans', sans-serif; text-anchor: start; fill: #0000ff" x="635.2128" y="266.4000">5</text>
   </g>
  </g>
  <g id="axes_3">
   <g id="patch_12">
    <path d="M 90 452.532414 
L 648 452.532414 
L 648 347.387586 
L 90 347.387586 
z
" style="fill: #ffffff"/>
   </g>
   <g id="matplotlib.axis_5">
    <g id="xtick_19">
     <g id="line2d_30">
      <g>
       <use href="#m32e9f8ea44" x="90.3600" y="453.2400" style="stroke: #000000; stroke-width: 0.8"/>
      </g>
     </g>
     <g id="text_154">
      <text style="font-size: 10px; font-family: 'DejaVu Sans', 'Liberation Sans', sans-serif; text-anchor: middle" x="90" y="467.452414">16/00</text>
     </g>
    </g>
    <g id="xtick_20">
     <g id="line2d_31">
      <g>
       <use href="#m32e9f8ea44" x="158.7600" y="453.2400" style="stroke: #000000; stroke-width: 0.8"/>
      </g>
     </g>
     <g id="text_155">
      <text style="font-size: 10px; font-family: 'DejaVu Sans', 'Liberation Sans', sans-serif; text-anchor: middle" x="158.326531" y="467.452414">16/06</text>
     </g>
    </g>
    <g id="xtick_21">
     <g id="line2d_32">
      <g>
       <use href="#m32e9f8ea44" x="227.1600" y="453.2400" style="stroke: #000000; stroke-width: 0.8"/>
      </g>
     </g>
     <g id="text_156">
      <text style="font-size: 10px; font-family: 'DejaVu Sans', 'Liberation Sans', sans-serif; text-anchor: middle" x="226.653061" y="467.452414">16/12</text>
     </g>
    </g>
    <g id="xtick_22">
     <g id="line2d_33">
      <g>
       <use href="#m32e9f8ea44" x="295.5600" y="453.2400" style="stroke: #000000; stroke-width: 0.8"/>
      </g>
     </g>
     <g id="text_157">
      <text style="font-size: 10px; font-family: 'DejaVu Sans', 'Liberation Sans', sans-serif; text-anchor: middle" x="294.979592" y="467.452414">16/18</text>
     </g>
    </g>
    <g id="xtick_23">
     <g id="line2d_34">
      <g>
       <use href="#m32e9f8ea44" x="363.9600" y="453.2400" style="stroke: #000000; stroke-width: 0.8"/>
      </g>
     </g>
     <g id="text_158">
      <text style="font-size: 10px; font-family: 'DejaVu Sans', 'Liberation Sans', sans-serif; text-anchor: middle" x="363.306122" y="467.452414">17/00</text>
     </g>
    </g>
    <g id="xtick_24">
     <g id="line2d_35">
      <g>
       <use href="#m32e9f8ea44" x="431.6400" y="453.2400" style="stroke: #000000; stroke-width: 0.8"/>
      </g>
     </g>
     <g id="text_159">
      <text style="font-size: 10px; font-family: 'DejaVu Sans', 'Liberation Sans', sans-serif; text-anchor: middle" x="431.632653" y="467.452414">17/06</text>
     </g>
    </g>
    <g id="xtick_25">
     <g id="line2d_36">
      <g>
       <use href="#m32e9f8ea44" x="500.0400" y="453.2400" style="stroke: #000000; stroke-width: 0.8"/>
      </g>
     </g>
     <g id="text_160">
      <text style="font-size: 10px; font-family: 'DejaVu Sans', 'Liberation Sans', sans-serif; text-anchor: middle" x="499.959184" y="467.452414">17/12</text>
     </g>
    </g>
    <g id="xtick_26">
     <g id="line2d_37">
      <g>
       <use href="#m32e9f8ea44" x="568.4400" y="453.2400" style="stroke: #000000; stroke-width: 0.8"/>
      </g>
     </g>
     <g id="text_161">
      <text style="font-size: 10px; font-family: 'DejaVu Sans', 'Liberation Sans', sans-serif; text-anchor: middle" x="568.285714" y="467.452414">17/18</text>
     </g>
    </g>
    <g id="xtick_27">
     <g id="line2d_38">
      <g>
       <use href="#m32e9f8ea44" x="636.8400" y="453.2400" style="stroke: #000000; stroke-width: 0.8"/>
      </g>
     </g>
     <g id="text_162">
      <text style="font-size: 10px; font-family: 'DejaVu Sans', 'Liberation Sans', sans-serif; text-anchor: middle" x="636.612245" y="467.452414">18/00</text>
     </g>
    </g>
   </g>
   <g id="matplotlib.axis_6">
    <g id="ytick_8">
     <g id="line2d_39">
      <g>
       <use href="#mfa02ca06f7" x="90.3600" y="448.2000" style="stroke: #000000; stroke-width: 0.8"/>
      </g>
     </g>
     <g id="text_163">
      <text style="font-size: 10px; font-family: 'DejaVu Sans', 'Liberation Sans', sans-serif; text-anchor: end" x="83.2160" y="451.713103">0</text>
     </g>
    </g>
    <g id="ytick_9">
     <g id="line2d_40">
      <g>
       <use href="#mfa02ca06f7" x="90.3600" y="410.0400" style="stroke: #000000; stroke-width: 0.8"/>
      </g>
     </g>
     <g id="text_164">
      <text style="font-size: 10px; font-family: 'DejaVu Sans', 'Liberation Sans', sans-serif; text-anchor: end" x="83.2160" y="413.325069">200</text>
     </g>
    </g>
    <g id="ytick_10">
     <g id="line2d_41">
      <g>
       <use href="#mfa02ca06f7" x="90.3600" y="371.1600" style="stroke: #000000; stroke-width: 0.8"/>
      </g>
     </g>
     <g id="text_165">
      <text style="font-size: 10px; font-family: 'DejaVu Sans', 'Liberation Sans', sans-serif; text-anchor: end" x="83.2160" y="374.937034">400</text>
     </g>
    </g>
    <g id="text_166">
     <text style="font-size: 10px; font-family: 'DejaVu Sans', 'Liberation Sans', sans-serif" transform="translate(40.9336 438.7950) rotate(-90)">Solar Radiation</text>
     <g transform="translate(56.1400 418.7627) rotate(-90)">
      <text><tspan x="0 3.901367 13.789062 17.158203 31.722168" y="-0.976562" style="font-size: 10px; font-family: 'DejaVu Sans', 'Liberation Sans', sans-serif">(W/m)</tspan><tspan x="26.995117" y="-4.804688" style="font-size: 7px; font-family: 'DejaVu Sans', 'Liberation Sans', sans-serif">2</tspan></text>
     </g>
    </g>
   </g>
   <g id="line2d_42">
    <path d="M 101.387755 447.753103 
L 112.77551 447.753103 
L 124.163265 447.753103 
L 135.55102 447.753103 
L 146.938776 447.753103 
L 158.326531 447.753103 
L 169.714286 447.753103 
L 181.102041 447.753103 
L 192.489796 447.753103 
L 203.877551 447.753103 
L 215.265306 447.753103 
L 226.653061 447.753103 
L 238.040816 447.753103 
L 249.428571 447.753103 
L 260.816327 437.688 
L 272.204082 405.288 
L 283.591837 373.608 
L 294.979592 352.008 
L 306.367347 356.328 
L 317.755102 383.688 
L 329.142857 397.224 
L 340.530612 392.328 
L 351.918367 416.808 
L 363.306122 447.753103 
L 374.693878 447.753103 
L 386.081633 447.753103 
L 397.469388 447.753103 
L 408.857143 447.753103 
L 420.244898 447.753103 
L 431.632653 447.753103 
L 443.020408 447.753103 
L 454.408163 447.753103 
L 465.795918 447.753103 
L 477.183673 447.753103 
L 488.571429 447.753103 
L 499.959184 447.753103 
L 511.346939 447.753103 
L 522.734694 447.753103 
L 534.122449 443.448 
L 545.510204 431.208 
L 556.897959 416.088 
L 568.285714 412.488 
L 579.673469 405.144 
L 591.061224 395.352 
L 602.44898 403.272 
L 613.836735 415.512 
L 625.22449 424.008 
L 636.612245 447.048 
" clip-path="url(#p5a1ca6c099)" style="fill: none; stroke: #bfbf00; stroke-width: 1.5; stroke-linecap: square"/>
    <defs>
     <path id="ma83c6872e6" d="M 0 1.5 
C 0.397805 1.5 0.77937 1.341951 1.06066 1.06066 
C 1.341951 0.77937 1.5 0.397805 1.5 0 
C 1.5 -0.397805 1.341951 -0.77937 1.06066 -1.06066 
C 0.77937 -1.341951 0.397805 -1.5 0 -1.5 
C -0.397805 -1.5 -0.77937 -1.341951 -1.06066 -1.06066 
C -1.341951 -0.77937 -1.5 -0.397805 -1.5 0 
C -1.5 0.397805 -1.341951 0.77937 -1.06066 1.06066 
C -0.77937 1.341951 -0.397805 1.5 0 1.5 
z
" style="stroke: #bfbf00"/>
    </defs>
    <g clip-path="url(#p5a1ca6c099)">
     <use href="#ma83c6872e6" x="101.8800" y="448.2000" style="fill: #bfbf00; stroke: #bfbf00"/>
     <use href="#ma83c6872e6" x="113.4000" y="448.2000" style="fill: #bfbf00; stroke: #bfbf00"/>
     <use href="#ma83c6872e6" x="124.2000" y="448.2000" style="fill: #bfbf00; stroke: #bfbf00"/>
     <use href="#ma83c6872e6" x="135.7200" y="448.2000" style="fill: #bfbf00; stroke: #bfbf00"/>
     <use href="#ma83c6872e6" x="147.2400" y="448.2000" style="fill: #bfbf00; stroke: #bfbf00"/>
     <use href="#ma83c6872e6" x="158.7600" y="448.2000" style="fill: #bfbf00; stroke: #bfbf00"/>
     <use href="#ma83c6872e6" x="170.2800" y="448.2000" style="fill: #bfbf00; stroke: #bfbf00"/>
     <use href="#ma83c6872e6" x="181.8000" y="448.2000" style="fill: #bfbf00; stroke: #bfbf00"/>
     <use href="#ma83c6872e6" x="192.6000" y="448.2000" style="fill: #bfbf00; stroke: #bfbf00"/>
     <use href="#ma83c6872e6" x="204.1200" y="448.2000" style="fill: #bfbf00; stroke: #bfbf00"/>
     <use href="#ma83c6872e6" x="215.6400" y="448.2000" style="fill: #bfbf00; stroke: #bfbf00"/>
     <use href="#ma83c6872e6" x="227.1600" y="448.2000" style="fill: #bfbf00; stroke: #bfbf00"/>
     <use href="#ma83c6872e6" x="238.6800" y="448.2000" style="fill: #bfbf00; stroke: #bfbf00"/>
     <use href="#ma83c6872e6" x="249.4800" y="448.2000" style="fill: #bfbf00; stroke: #bfbf00"/>
     <use href="#ma83c6872e6" x="261.0000" y="438.1200" style="fill: #bfbf00; stroke: #bfbf00"/>
     <use href="#ma83c6872e6" x="272.5200" y="405.7200" style="fill: #bfbf00; stroke: #bfbf00"/>
     <use href="#ma83c6872e6" x="284.0400" y="374.0400" style="fill: #bfbf00; stroke: #bfbf00"/>
     <use href="#ma83c6872e6" x="295.5600" y="352.4400" style="fill: #bfbf00; stroke: #bfbf00"/>
     <use href="#ma83c6872e6" x="307.0800" y="356.7600" style="fill: #bfbf00; stroke: #bfbf00"/>
     <use href="#ma83c6872e6" x="317.8800" y="384.1200" style="fill: #bfbf00; stroke: #bfbf00"/>
     <use href="#ma83c6872e6" x="329.4000" y="397.8000" style="fill: #bfbf00; stroke: #bfbf00"/>
     <use href="#ma83c6872e6" x="340.9200" y="392.7600" style="fill: #bfbf00; stroke: #bfbf00"/>
     <use href="#ma83c6872e6" x="352.4400" y="417.2400" style="fill: #bfbf00; stroke: #bfbf00"/>
     <use href="#ma83c6872e6" x="363.9600" y="448.2000" style="fill: #bfbf00; stroke: #bfbf00"/>
     <use href="#ma83c6872e6" x="374.7600" y="448.2000" style="fill: #bfbf00; stroke: #bfbf00"/>
     <use href="#ma83c6872e6" x="386.2800" y="448.2000" style="fill: #bfbf00; stroke: #bfbf00"/>
     <use href="#ma83c6872e6" x="397.8000" y="448.2000" style="fill: #bfbf00; stroke: #bfbf00"/>
     <use href="#ma83c6872e6" x="409.3200" y="448.2000" style="fill: #bfbf00; stroke: #bfbf00"/>
     <use href="#ma83c6872e6" x="420.8400" y="448.2000" style="fill: #bfbf00; stroke: #bfbf00"/>
     <use href="#ma83c6872e6" x="431.6400" y="448.2000" style="fill: #bfbf00; stroke: #bfbf00"/>
     <use href="#ma83c6872e6" x="443.1600" y="448.2000" style="fill: #bfbf00; stroke: #bfbf00"/>
     <use href="#ma83c6872e6" x="454.6800" y="448.2000" style="fill: #bfbf00; stroke: #bfbf00"/>
     <use href="#ma83c6872e6" x="466.2000" y="448.2000" style="fill: #bfbf00; stroke: #bfbf00"/>
     <use href="#ma83c6872e6" x="477.7200" y="448.2000" style="fill: #bfbf00; stroke: #bfbf00"/>
     <use href="#ma83c6872e6" x="489.2400" y="448.2000" style="fill: #bfbf00; stroke: #bfbf00"/>
     <use href="#ma83c6872e6" x="500.0400" y="448.2000" style="fill: #bfbf00; stroke: #bfbf00"/>
     <use href="#ma83c6872e6" x="511.5600" y="448.2000" style="fill: #bfbf00; stroke: #bfbf00"/>
     <use href="#ma83c6872e6" x="523.0800" y="448.2000" style="fill: #bfbf00; stroke: #bfbf00"/>
     <use href="#ma83c6872e6" x="534.6000" y="443.8800" style="fill: #bfbf00; stroke: #bfbf00"/>
     <use href="#ma83c6872e6" x="546.1200" y="431.6400" style="fill: #bfbf00; stroke: #bfbf00"/>
     <use href="#ma83c6872e6" x="556.9200" y="416.5200" style="fill: #bfbf00; stroke: #bfbf00"/>
     <use href="#ma83c6872e6" x="568.4400" y="412.9200" style="fill: #bfbf00; stroke: #bfbf00"/>
     <use href="#ma83c6872e6" x="579.9600" y="405.7200" style="fill: #bfbf00; stroke: #bfbf00"/>
     <use href="#ma83c6872e6" x="591.4800" y="395.6400" style="fill: #bfbf00; stroke: #bfbf00"/>
     <use href="#ma83c6872e6" x="603.0000" y="403.5600" style="fill: #bfbf00; stroke: #bfbf00"/>
     <use href="#ma83c6872e6" x="614.5200" y="415.8000" style="fill: #bfbf00; stroke: #bfbf00"/>
     <use href="#ma83c6872e6" x="625.3200" y="424.4400" style="fill: #bfbf00; stroke: #bfbf00"/>
     <use href="#ma83c6872e6" x="636.8400" y="447.4800" style="fill: #bfbf00; stroke: #bfbf00"/>
    </g>
   </g>
   <g id="patch_13">
    <path d="M 90.3600 453.2400 L 90.3600 347.4000" style="fill: none; stroke: #000000; stroke-width: 0.8; stroke-linejoin: miter; stroke-linecap: square"/>
   </g>
   <g id="patch_14">
    <path d="M 648.3600 453.2400 L 648.3600 347.4000" style="fill: none; stroke: #000000; stroke-width: 0.8; stroke-linejoin: miter; stroke-linecap: square"/>
   </g>
   <g id="patch_15">
    <path d="M 90.3600 453.2400 L 648.3600 453.2400" style="fill: none; stroke: #000000; stroke-width: 0.8; stroke-linejoin: miter; stroke-linecap: square"/>
   </g>
   <g id="patch_16">
    <path d="M 90.3600 347.4000 L 648.3600 347.4000" style="fill: none; stroke: #000000; stroke-width: 0.8; stroke-linejoin: miter; stroke-linecap: square"/>
   </g>
  </g>
  <g id="axes_4">
   <g id="patch_17">
    <path d="M 90 704.88 
L 648 704.88 
L 648 599.735172 
L 90 599.735172 
z
" style="fill: #ffffff"/>
   </g>
   <g id="matplotlib.axis_7">
    <g id="xtick_28">
     <g id="line2d_43">
      <g>
       <use href="#m32e9f8ea44" x="90.3600" y="705.2400" style="stroke: #000000; stroke-width: 0.8"/>
      </g>
     </g>
     <g id="text_167">
      <text style="font-size: 10px; font-family: 'DejaVu Sans', 'Liberation Sans', sans-serif; text-anchor: middle" x="90" y="719.8">16/00</text>
     </g>
    </g>
    <g id="xtick_29">
     <g id="line2d_44">
      <g>
       <use href="#m32e9f8ea44" x="158.7600" y="705.2400" style="stroke: #000000; stroke-width: 0.8"/>
      </g>
     </g>
     <g id="text_168">
      <text style="font-size: 10px; font-family: 'DejaVu Sans', 'Liberation Sans', sans-serif; text-anchor: middle" x="158.326531" y="719.8">16/06</text>
     </g>
    </g>
    <g id="xtick_30">
     <g id="line2d_45">
      <g>
       <use href="#m32e9f8ea44" x="227.1600" y="705.2400" style="stroke: #000000; stroke-width: 0.8"/>
      </g>
     </g>
     <g id="text_169">
      <text style="font-size: 10px; font-family: 'DejaVu Sans', 'Liberation Sans', sans-serif; text-anchor: middle" x="226.653061" y="719.8">16/12</text>
     </g>
    </g>
    <g id="xtick_31">
     <g id="line2d_46">
      <g>
       <use href="#m32e9f8ea44" x="295.5600" y="705.2400" style="stroke: #000000; stroke-width: 0.8"/>
      </g>
     </g>
     <g id="text_170">
      <text style="font-size: 10px; font-family: 'DejaVu Sans', 'Liberation Sans', sans-serif; text-anchor: middle" x="294.979592" y="719.8">16/18</text>
     </g>
    </g>
    <g id="xtick_32">
     <g id="line2d_47">
      <g>
       <use href="#m32e9f8ea44" x="363.9600" y="705.2400" style="stroke: #000000; stroke-width: 0.8"/>
      </g>
     </g>
     <g id="text_171">
      <text style="font-size: 10px; font-family: 'DejaVu Sans', 'Liberation Sans', sans-serif; text-anchor: middle" x="363.306122" y="719.8">17/00</text>
     </g>
    </g>
    <g id="xtick_33">
     <g id="line2d_48">
      <g>
       <use href="#m32e9f8ea44" x="431.6400" y="705.2400" style="stroke: #000000; stroke-width: 0.8"/>
      </g>
     </g>
     <g id="text_172">
      <text style="font-size: 10px; font-family: 'DejaVu Sans', 'Liberation Sans', sans-serif; text-anchor: middle" x="431.632653" y="719.8">17/06</text>
     </g>
    </g>
    <g id="xtick_34">
     <g id="line2d_49">
      <g>
       <use href="#m32e9f8ea44" x="500.0400" y="705.2400" style="stroke: #000000; stroke-width: 0.8"/>
      </g>
     </g>
     <g id="text_173">
      <text style="font-size: 10px; font-family: 'DejaVu Sans', 'Liberation Sans', sans-serif; text-anchor: middle" x="499.959184" y="719.8">17/12</text>
     </g>
    </g>
    <g id="xtick_35">
     <g id="line2d_50">
      <g>
       <use href="#m32e9f8ea44" x="568.4400" y="705.2400" style="stroke: #000000; stroke-width: 0.8"/>
      </g>
     </g>
     <g id="text_174">
      <text style="font-size: 10px; font-family: 'DejaVu Sans', 'Liberation Sans', sans-serif; text-anchor: middle" x="568.285714" y="719.8">17/18</text>
     </g>
    </g>
    <g id="xtick_36">
     <g id="line2d_51">
      <g>
       <use href="#m32e9f8ea44" x="636.8400" y="705.2400" style="stroke: #000000; stroke-width: 0.8"/>
      </g>
     </g>
     <g id="text_175">
      <text style="font-size: 10px; font-family: 'DejaVu Sans', 'Liberation Sans', sans-serif; text-anchor: middle" x="636.612245" y="719.8">18/00</text>
     </g>
    </g>
    <g id="text_176">
     <text style="font-size: 10px; font-family: 'DejaVu Sans', 'Liberation Sans', sans-serif; text-anchor: middle" x="369" y="734.6000">Time (UTC)</text>
    </g>
   </g>
   <g id="matplotlib.axis_8">
    <g id="ytick_11">
     <g id="line2d_52">
      <g>
       <use href="#mfa02ca06f7" x="90.3600" y="705.2400" style="stroke: #000000; stroke-width: 0.8"/>
      </g>
     </g>
     <g id="text_177">
      <text style="font-size: 10px; font-family: 'DejaVu Sans', 'Liberation Sans', sans-serif; text-anchor: end" x="83.2160" y="708.84">0.00</text>
     </g>
    </g>
    <g id="ytick_12">
     <g id="line2d_53">
      <g>
       <use href="#mfa02ca06f7" x="90.3600" y="684.3600" style="stroke: #000000; stroke-width: 0.8"/>
      </g>
     </g>
     <g id="text_178">
      <text style="font-size: 10px; font-family: 'DejaVu Sans', 'Liberation Sans', sans-serif; text-anchor: end" x="83.2160" y="687.811034">0.01</text>
     </g>
    </g>
    <g id="ytick_13">
     <g id="line2d_54">
      <g>
       <use href="#mfa02ca06f7" x="90.3600" y="663.4800" style="stroke: #000000; stroke-width: 0.8"/>
      </g>
     </g>
     <g id="text_179">
      <text style="font-size: 10px; font-family: 'DejaVu Sans', 'Liberation Sans', sans-serif; text-anchor: end" x="83.2160" y="666.782069">0.02</text>
     </g>
    </g>
    <g id="ytick_14">
     <g id="line2d_55">
      <g>
       <use href="#mfa02ca06f7" x="90.3600" y="641.8800" style="stroke: #000000; stroke-width: 0.8"/>
      </g>
     </g>
     <g id="text_180">
      <text style="font-size: 10px; font-family: 'DejaVu Sans', 'Liberation Sans', sans-serif; text-anchor: end" x="83.2160" y="645.753103">0.03</text>
     </g>
    </g>
    <g id="ytick_15">
     <g id="line2d_56">
      <g>
       <use href="#mfa02ca06f7" x="90.3600" y="621.0000" style="stroke: #000000; stroke-width: 0.8"/>
      </g>
     </g>
     <g id="text_181">
      <text style="font-size: 10px; font-family: 'DejaVu Sans', 'Liberation Sans', sans-serif; text-anchor: end" x="83.2160" y="624.724138">0.04</text>
     </g>
    </g>
    <g id="ytick_16">
     <g id="line2d_57">
      <g>
       <use href="#mfa02ca06f7" x="90.3600" y="600.1200" style="stroke: #000000; stroke-width: 0.8"/>
      </g>
     </g>
     <g id="text_182">
      <text style="font-size: 10px; font-family: 'DejaVu Sans', 'Liberation Sans', sans-serif; text-anchor: end" x="83.2160" y="603.695172">0.05</text>
     </g>
    </g>
    <g id="text_183">
     <text style="font-size: 10px; font-family: 'DejaVu Sans', 'Liberation Sans', sans-serif; text-anchor: middle" x="53.9800" y="653.0276" transform="rotate(-90 53.9800 653.0276)">Precip (in)</text>
    </g>
   </g>
   <g id="line2d_58">
    <path d="M 113.0400 704.8800 L 123.8400 704.8800 L 135.3600 704.8800 L 146.8800 704.8800 L 158.4000 704.8800 L 169.9200 704.8800 L 181.4400 704.8800 L 192.2400 704.8800 L 203.7600 704.8800 L 215.2800 704.8800 L 226.8000 704.8800 L 238.3200 704.8800 L 249.1200 704.8800 L 260.6400 704.8800 L 272.1600 704.8800 L 283.6800 704.8800 L 295.2000 704.8800 L 306.7200 704.8800 L 317.5200 704.8800 L 329.0400 704.8800 L 340.5600 704.8800 L 352.0800 704.8800 L 363.6000 704.8800 L 374.4000 704.8800 L 385.9200 704.8800 L 397.4400 704.8800 L 408.9600 704.8800 L 420.4800 704.8800 L 431.2800 704.8800 L 442.8000 704.8800 L 454.3200 704.8800 L 465.8400 704.8800 L 477.3600 704.8800 L 488.8800 704.8800 L 499.6800 704.8800 L 511.2000 704.8800 L 522.7200 704.8800 L 534.2400 704.8800 L 545.7600 704.8800 L 556.5600 704.8800 L 568.0800 704.8800 L 579.6000 704.8800 L 591.1200 704.8800 L 602.6400 704.8800 L 614.1600 704.8800 L 624.9600 704.8800 L 636.4800 704.8800" clip-path="url(#p1a8c73a2c7)" style="fill: none; stroke: #008000; stroke-width: 1.5; stroke-linecap: square"/>
    <g clip-path="url(#p1a8c73a2c7)">
     <use href="#m4e61fe54c4" x="113.4000" y="705.2400" style="fill: #008000; stroke: #008000"/>
     <use href="#m4e61fe54c4" x="124.2000" y="705.2400" style="fill: #008000; stroke: #008000"/>
     <use href="#m4e61fe54c4" x="135.7200" y="705.2400" style="fill: #008000; stroke: #008000"/>
     <use href="#m4e61fe54c4" x="147.2400" y="705.2400" style="fill: #008000; stroke: #008000"/>
     <use href="#m4e61fe54c4" x="158.7600" y="705.2400" style="fill: #008000; stroke: #008000"/>
     <use href="#m4e61fe54c4" x="170.2800" y="705.2400" style="fill: #008000; stroke: #008000"/>
     <use href="#m4e61fe54c4" x="181.8000" y="705.2400" style="fill: #008000; stroke: #008000"/>
     <use href="#m4e61fe54c4" x="192.6000" y="705.2400" style="fill: #008000; stroke: #008000"/>
     <use href="#m4e61fe54c4" x="204.1200" y="705.2400" style="fill: #008000; stroke: #008000"/>
     <use href="#m4e61fe54c4" x="215.6400" y="705.2400" style="fill: #008000; stroke: #008000"/>
     <use href="#m4e61fe54c4" x="227.1600" y="705.2400" style="fill: #008000; stroke: #008000"/>
     <use href="#m4e61fe54c4" x="238.6800" y="705.2400" style="fill: #008000; stroke: #008000"/>
     <use href="#m4e61fe54c4" x="249.4800" y="705.2400" style="fill: #008000; stroke: #008000"/>
     <use href="#m4e61fe54c4" x="261.0000" y="705.2400" style="fill: #008000; stroke: #008000"/>
     <use href="#m4e61fe54c4" x="272.5200" y="705.2400" style="fill: #008000; stroke: #008000"/>
     <use href="#m4e61fe54c4" x="284.0400" y="705.2400" style="fill: #008000; stroke: #008000"/>
     <use href="#m4e61fe54c4" x="295.5600" y="705.2400" style="fill: #008000; stroke: #008000"/>
     <use href="#m4e61fe54c4" x="307.0800" y="705.2400" style="fill: #008000; stroke: #008000"/>
     <use href="#m4e61fe54c4" x="317.8800" y="705.2400" style="fill: #008000; stroke: #008000"/>
     <use href="#m4e61fe54c4" x="329.4000" y="705.2400" style="fill: #008000; stroke: #008000"/>
     <use href="#m4e61fe54c4" x="340.9200" y="705.2400" style="fill: #008000; stroke: #008000"/>
     <use href="#m4e61fe54c4" x="352.4400" y="705.2400" style="fill: #008000; stroke: #008000"/>
     <use href="#m4e61fe54c4" x="363.9600" y="705.2400" style="fill: #008000; stroke: #008000"/>
     <use href="#m4e61fe54c4" x="374.7600" y="705.2400" style="fill: #008000; stroke: #008000"/>
     <use href="#m4e61fe54c4" x="386.2800" y="705.2400" style="fill: #008000; stroke: #008000"/>
     <use href="#m4e61fe54c4" x="397.8000" y="705.2400" style="fill: #008000; stroke: #008000"/>
     <use href="#m4e61fe54c4" x="409.3200" y="705.2400" style="fill: #008000; stroke: #008000"/>
     <use href="#m4e61fe54c4" x="420.8400" y="705.2400" style="fill: #008000; stroke: #008000"/>
     <use href="#m4e61fe54c4" x="431.6400" y="705.2400" style="fill: #008000; stroke: #008000"/>
     <use href="#m4e61fe54c4" x="443.1600" y="705.2400" style="fill: #008000; stroke: #008000"/>
     <use href="#m4e61fe54c4" x="454.6800" y="705.2400" style="fill: #008000; stroke: #008000"/>
     <use href="#m4e61fe54c4" x="466.2000" y="705.2400" style="fill: #008000; stroke: #008000"/>
     <use href="#m4e61fe54c4" x="477.7200" y="705.2400" style="fill: #008000; stroke: #008000"/>
     <use href="#m4e61fe54c4" x="489.2400" y="705.2400" style="fill: #008000; stroke: #008000"/>
     <use href="#m4e61fe54c4" x="500.0400" y="705.2400" style="fill: #008000; stroke: #008000"/>
     <use href="#m4e61fe54c4" x="511.5600" y="705.2400" style="fill: #008000; stroke: #008000"/>
     <use href="#m4e61fe54c4" x="523.0800" y="705.2400" style="fill: #008000; stroke: #008000"/>
     <use href="#m4e61fe54c4" x="534.6000" y="705.2400" style="fill: #008000; stroke: #008000"/>
     <use href="#m4e61fe54c4" x="546.1200" y="705.2400" style="fill: #008000; stroke: #008000"/>
     <use href="#m4e61fe54c4" x="556.9200" y="705.2400" style="fill: #008000; stroke: #008000"/>
     <use href="#m4e61fe54c4" x="568.4400" y="705.2400" style="fill: #008000; stroke: #008000"/>
     <use href="#m4e61fe54c4" x="579.9600" y="705.2400" style="fill: #008000; stroke: #008000"/>
     <use href="#m4e61fe54c4" x="591.4800" y="705.2400" style="fill: #008000; stroke: #008000"/>
     <use href="#m4e61fe54c4" x="603.0000" y="705.2400" style="fill: #008000; stroke: #008000"/>
     <use href="#m4e61fe54c4" x="614.5200" y="705.2400" style="fill: #008000; stroke: #008000"/>
     <use href="#m4e61fe54c4" x="625.3200" y="705.2400" style="fill: #008000; stroke: #008000"/>
     <use href="#m4e61fe54c4" x="636.8400" y="705.2400" style="fill: #008000; stroke: #008000"/>
    </g>
   </g>
   <g id="line2d_59">
    <path d="M 113.0400 704.8800 L 123.8400 704.8800 L 135.3600 704.8800 L 146.8800 704.8800 L 158.4000 704.8800 L 169.9200 704.8800 L 181.4400 704.8800 L 192.2400 704.8800 L 203.7600 704.8800 L 215.2800 704.8800 L 226.8000 704.8800 L 238.3200 704.8800 L 249.1200 704.8800 L 260.6400 704.8800 L 272.1600 704.8800 L 283.6800 704.8800 L 295.2000 704.8800 L 306.7200 704.8800 L 317.5200 704.8800 L 329.0400 704.8800 L 340.5600 704.8800 L 352.0800 704.8800 L 363.6000 704.8800 L 374.4000 704.8800 L 385.9200 704.8800 L 397.4400 704.8800 L 408.9600 704.8800 L 420.4800 704.8800 L 431.2800 704.8800 L 442.8000 704.8800 L 454.3200 704.8800 L 465.8400 704.8800 L 477.3600 704.8800 L 488.8800 704.8800 L 499.6800 704.8800 L 511.2000 704.8800 L 522.7200 704.8800 L 534.2400 704.8800 L 545.7600 704.8800 L 556.5600 704.8800 L 568.0800 704.8800 L 579.6000 704.8800 L 591.1200 704.8800 L 602.6400 704.8800 L 614.1600 704.8800 L 624.9600 704.8800 L 636.4800 704.8800" clip-path="url(#p1a8c73a2c7)" style="fill: none; stroke: #866c8a; stroke-width: 1.5; stroke-linecap: square"/>
    <defs>
     <path id="m53a08cee27" d="M 0 1.5 
C 0.397805 1.5 0.77937 1.341951 1.06066 1.06066 
C 1.341951 0.77937 1.5 0.397805 1.5 0 
C 1.5 -0.397805 1.341951 -0.77937 1.06066 -1.06066 
C 0.77937 -1.341951 0.397805 -1.5 0 -1.5 
C -0.397805 -1.5 -0.77937 -1.341951 -1.06066 -1.06066 
C -1.341951 -0.77937 -1.5 -0.397805 -1.5 0 
C -1.5 0.397805 -1.341951 0.77937 -1.06066 1.06066 
C -0.77937 1.341951 -0.397805 1.5 0 1.5 
z
" style="stroke: #866c8a"/>
    </defs>
    <g clip-path="url(#p1a8c73a2c7)">
     <use href="#m53a08cee27" x="113.4000" y="705.2400" style="fill: #866c8a; stroke: #866c8a"/>
     <use href="#m53a08cee27" x="124.2000" y="705.2400" style="fill: #866c8a; stroke: #866c8a"/>
     <use href="#m53a08cee27" x="135.7200" y="705.2400" style="fill: #866c8a; stroke: #866c8a"/>
     <use href="#m53a08cee27" x="147.2400" y="705.2400" style="fill: #866c8a; stroke: #866c8a"/>
     <use href="#m53a08cee27" x="158.7600" y="705.2400" style="fill: #866c8a; stroke: #866c8a"/>
     <use href="#m53a08cee27" x="170.2800" y="705.2400" style="fill: #866c8a; stroke: #866c8a"/>
     <use href="#m53a08cee27" x="181.8000" y="705.2400" style="fill: #866c8a; stroke: #866c8a"/>
     <use href="#m53a08cee27" x="192.6000" y="705.2400" style="fill: #866c8a; stroke: #866c8a"/>
     <use href="#m53a08cee27" x="204.1200" y="705.2400" style="fill: #866c8a; stroke: #866c8a"/>
     <use href="#m53a08cee27" x="215.6400" y="705.2400" style="fill: #866c8a; stroke: #866c8a"/>
     <use href="#m53a08cee27" x="227.1600" y="705.2400" style="fill: #866c8a; stroke: #866c8a"/>
     <use href="#m53a08cee27" x="238.6800" y="705.2400" style="fill: #866c8a; stroke: #866c8a"/>
     <use href="#m53a08cee27" x="249.4800" y="705.2400" style="fill: #866c8a; stroke: #866c8a"/>
     <use href="#m53a08cee27" x="261.0000" y="705.2400" style="fill: #866c8a; stroke: #866c8a"/>
     <use href="#m53a08cee27" x="272.5200" y="705.2400" style="fill: #866c8a; stroke: #866c8a"/>
     <use href="#m53a08cee27" x="284.0400" y="705.2400" style="fill: #866c8a; stroke: #866c8a"/>
     <use href="#m53a08cee27" x="295.5600" y="705.2400" style="fill: #866c8a; stroke: #866c8a"/>
     <use href="#m53a08cee27" x="307.0800" y="705.2400" style="fill: #866c8a; stroke: #866c8a"/>
     <use href="#m53a08cee27" x="317.8800" y="705.2400" style="fill: #866c8a; stroke: #866c8a"/>
     <use href="#m53a08cee27" x="329.4000" y="705.2400" style="fill: #866c8a; stroke: #866c8a"/>
     <use href="#m53a08cee27" x="340.9200" y="705.2400" style="fill: #866c8a; stroke: #866c8a"/>
     <use href="#m53a08cee27" x="352.4400" y="705.2400" style="fill: #866c8a; stroke: #866c8a"/>
     <use href="#m53a08cee27" x="363.9600" y="705.2400" style="fill: #866c8a; stroke: #866c8a"/>
     <use href="#m53a08cee27" x="374.7600" y="705.2400" style="fill: #866c8a; stroke: #866c8a"/>
     <use href="#m53a08cee27" x="386.2800" y="705.2400" style="fill: #866c8a; stroke: #866c8a"/>
     <use href="#m53a08cee27" x="397.8000" y="705.2400" style="fill: #866c8a; stroke: #866c8a"/>
     <use href="#m53a08cee27" x="409.3200" y="705.2400" style="fill: #866c8a; stroke: #866c8a"/>
     <use href="#m53a08cee27" x="420.8400" y="705.2400" style="fill: #866c8a; stroke: #866c8a"/>
     <use href="#m53a08cee27" x="431.6400" y="705.2400" style="fill: #866c8a; stroke: #866c8a"/>
     <use href="#m53a08cee27" x="443.1600" y="705.2400" style="fill: #866c8a; stroke: #866c8a"/>
     <use href="#m53a08cee27" x="454.6800" y="705.2400" style="fill: #866c8a; stroke: #866c8a"/>
     <use href="#m53a08cee27" x="466.2000" y="705.2400" style="fill: #866c8a; stroke: #866c8a"/>
     <use href="#m53a08cee27" x="477.7200" y="705.2400" style="fill: #866c8a; stroke: #866c8a"/>
     <use href="#m53a08cee27" x="489.2400" y="705.2400" style="fill: #866c8a; stroke: #866c8a"/>
     <use href="#m53a08cee27" x="500.0400" y="705.2400" style="fill: #866c8a; stroke: #866c8a"/>
     <use href="#m53a08cee27" x="511.5600" y="705.2400" style="fill: #866c8a; stroke: #866c8a"/>
     <use href="#m53a08cee27" x="523.0800" y="705.2400" style="fill: #866c8a; stroke: #866c8a"/>
     <use href="#m53a08cee27" x="534.6000" y="705.2400" style="fill: #866c8a; stroke: #866c8a"/>
     <use href="#m53a08cee27" x="546.1200" y="705.2400" style="fill: #866c8a; stroke: #866c8a"/>
     <use href="#m53a08cee27" x="556.9200" y="705.2400" style="fill: #866c8a; stroke: #866c8a"/>
     <use href="#m53a08cee27" x="568.4400" y="705.2400" style="fill: #866c8a; stroke: #866c8a"/>
     <use href="#m53a08cee27" x="579.9600" y="705.2400" style="fill: #866c8a; stroke: #866c8a"/>
     <use href="#m53a08cee27" x="591.4800" y="705.2400" style="fill: #866c8a; stroke: #866c8a"/>
     <use href="#m53a08cee27" x="603.0000" y="705.2400" style="fill: #866c8a; stroke: #866c8a"/>
     <use href="#m53a08cee27" x="614.5200" y="705.2400" style="fill: #866c8a; stroke: #866c8a"/>
     <use href="#m53a08cee27" x="625.3200" y="705.2400" style="fill: #866c8a; stroke: #866c8a"/>
     <use href="#m53a08cee27" x="636.8400" y="705.2400" style="fill: #866c8a; stroke: #866c8a"/>
    </g>
   </g>
   <g id="line2d_60">
    <path d="M 113.0400 704.8800 L 123.8400 704.8800 L 135.3600 704.8800 L 146.8800 704.8800 L 158.4000 704.8800 L 169.9200 704.8800 L 181.4400 704.8800 L 192.2400 704.8800 L 203.7600 704.8800 L 215.2800 704.8800 L 226.8000 704.8800 L 238.3200 704.8800 L 249.1200 704.8800 L 260.6400 704.8800 L 272.1600 704.8800 L 283.6800 704.8800 L 295.2000 704.8800 L 306.7200 704.8800 L 317.5200 704.8800 L 329.0400 704.8800 L 340.5600 704.8800 L 352.0800 704.8800 L 363.6000 704.8800 L 374.4000 704.8800 L 385.9200 704.8800 L 397.4400 704.8800 L 408.9600 704.8800 L 420.4800 704.8800 L 431.2800 704.8800 L 442.8000 704.8800 L 454.3200 704.8800 L 465.8400 704.8800 L 477.3600 704.8800 L 488.8800 704.8800 L 499.6800 704.8800 L 511.2000 704.8800 L 522.7200 704.8800 L 534.2400 704.8800 L 545.7600 704.8800 L 556.5600 704.8800 L 568.0800 704.8800 L 579.6000 704.8800 L 591.1200 704.8800 L 602.6400 704.8800 L 614.1600 704.8800 L 624.9600 704.8800 L 636.4800 704.8800" clip-path="url(#p1a8c73a2c7)" style="fill: none; stroke: #bf00bf; stroke-width: 1.5; stroke-linecap: square"/>
    <defs>
     <path id="me5d670379a" d="M 0 1.5 
C 0.397805 1.5 0.77937 1.341951 1.06066 1.06066 
C 1.341951 0.77937 1.5 0.397805 1.5 0 
C 1.5 -0.397805 1.341951 -0.77937 1.06066 -1.06066 
C 0.77937 -1.341951 0.397805 -1.5 0 -1.5 
C -0.397805 -1.5 -0.77937 -1.341951 -1.06066 -1.06066 
C -1.341951 -0.77937 -1.5 -0.397805 -1.5 0 
C -1.5 0.397805 -1.341951 0.77937 -1.06066 1.06066 
C -0.77937 1.341951 -0.397805 1.5 0 1.5 
z
" style="stroke: #bf00bf"/>
    </defs>
    <g clip-path="url(#p1a8c73a2c7)">
     <use href="#me5d670379a" x="113.4000" y="705.2400" style="fill: #bf00bf; stroke: #bf00bf"/>
     <use href="#me5d670379a" x="124.2000" y="705.2400" style="fill: #bf00bf; stroke: #bf00bf"/>
     <use href="#me5d670379a" x="135.7200" y="705.2400" style="fill: #bf00bf; stroke: #bf00bf"/>
     <use href="#me5d670379a" x="147.2400" y="705.2400" style="fill: #bf00bf; stroke: #bf00bf"/>
     <use href="#me5d670379a" x="158.7600" y="705.2400" style="fill: #bf00bf; stroke: #bf00bf"/>
     <use href="#me5d670379a" x="170.2800" y="705.2400" style="fill: #bf00bf; stroke: #bf00bf"/>
     <use href="#me5d670379a" x="181.8000" y="705.2400" style="fill: #bf00bf; stroke: #bf00bf"/>
     <use href="#me5d670379a" x="192.6000" y="705.2400" style="fill: #bf00bf; stroke: #bf00bf"/>
     <use href="#me5d670379a" x="204.1200" y="705.2400" style="fill: #bf00bf; stroke: #bf00bf"/>
     <use href="#me5d670379a" x="215.6400" y="705.2400" style="fill: #bf00bf; stroke: #bf00bf"/>
     <use href="#me5d670379a" x="227.1600" y="705.2400" style="fill: #bf00bf; stroke: #bf00bf"/>
     <use href="#me5d670379a" x="238.6800" y="705.2400" style="fill: #bf00bf; stroke: #bf00bf"/>
     <use href="#me5d670379a" x="249.4800" y="705.2400" style="fill: #bf00bf; stroke: #bf00bf"/>
     <use href="#me5d670379a" x="261.0000" y="705.2400" style="fill: #bf00bf; stroke: #bf00bf"/>
     <use href="#me5d670379a" x="272.5200" y="705.2400" style="fill: #bf00bf; stroke: #bf00bf"/>
     <use href="#me5d670379a" x="284.0400" y="705.2400" style="fill: #bf00bf; stroke: #bf00bf"/>
     <use href="#me5d670379a" x="295.5600" y="705.2400" style="fill: #bf00bf; stroke: #bf00bf"/>
     <use href="#me5d670379a" x="307.0800" y="705.2400" style="fill: #bf00bf; stroke: #bf00bf"/>
     <use href="#me5d670379a" x="317.8800" y="705.2400" style="fill: #bf00bf; stroke: #bf00bf"/>
     <use href="#me5d670379a" x="329.4000" y="705.2400" style="fill: #bf00bf; stroke: #bf00bf"/>
     <use href="#me5d670379a" x="340.9200" y="705.2400" style="fill: #bf00bf; stroke: #bf00bf"/>
     <use href="#me5d670379a" x="352.4400" y="705.2400" style="fill: #bf00bf; stroke: #bf00bf"/>
     <use href="#me5d670379a" x="363.9600" y="705.2400" style="fill: #bf00bf; stroke: #bf00bf"/>
     <use href="#me5d670379a" x="374.7600" y="705.2400" style="fill: #bf00bf; stroke: #bf00bf"/>
     <use href="#me5d670379a" x="386.2800" y="705.2400" style="fill: #bf00bf; stroke: #bf00bf"/>
     <use href="#me5d670379a" x="397.8000" y="705.2400" style="fill: #bf00bf; stroke: #bf00bf"/>
     <use href="#me5d670379a" x="409.3200" y="705.2400" style="fill: #bf00bf; stroke: #bf00bf"/>
     <use href="#me5d670379a" x="420.8400" y="705.2400" style="fill: #bf00bf; stroke: #bf00bf"/>
     <use href="#me5d670379a" x="431.6400" y="705.2400" style="fill: #bf00bf; stroke: #bf00bf"/>
     <use href="#me5d670379a" x="443.1600" y="705.2400" style="fill: #bf00bf; stroke: #bf00bf"/>
     <use href="#me5d670379a" x="454.6800" y="705.2400" style="fill: #bf00bf; stroke: #bf00bf"/>
     <use href="#me5d670379a" x="466.2000" y="705.2400" style="fill: #bf00bf; stroke: #bf00bf"/>
     <use href="#me5d670379a" x="477.7200" y="705.2400" style="fill: #bf00bf; stroke: #bf00bf"/>
     <use href="#me5d670379a" x="489.2400" y="705.2400" style="fill: #bf00bf; stroke: #bf00bf"/>
     <use href="#me5d670379a" x="500.0400" y="705.2400" style="fill: #bf00bf; stroke: #bf00bf"/>
     <use href="#me5d670379a" x="511.5600" y="705.2400" style="fill: #bf00bf; stroke: #bf00bf"/>
     <use href="#me5d670379a" x="523.0800" y="705.2400" style="fill: #bf00bf; stroke: #bf00bf"/>
     <use href="#me5d670379a" x="534.6000" y="705.2400" style="fill: #bf00bf; stroke: #bf00bf"/>
     <use href="#me5d670379a" x="546.1200" y="705.2400" style="fill: #bf00bf; stroke: #bf00bf"/>
     <use href="#me5d670379a" x="556.9200" y="705.2400" style="fill: #bf00bf; stroke: #bf00bf"/>
     <use href="#me5d670379a" x="568.4400" y="705.2400" style="fill: #bf00bf; stroke: #bf00bf"/>
     <use href="#me5d670379a" x="579.9600" y="705.2400" style="fill: #bf00bf; stroke: #bf00bf"/>
     <use href="#me5d670379a" x="591.4800" y="705.2400" style="fill: #bf00bf; stroke: #bf00bf"/>
     <use href="#me5d670379a" x="603.0000" y="705.2400" style="fill: #bf00bf; stroke: #bf00bf"/>
     <use href="#me5d670379a" x="614.5200" y="705.2400" style="fill: #bf00bf; stroke: #bf00bf"/>
     <use href="#me5d670379a" x="625.3200" y="705.2400" style="fill: #bf00bf; stroke: #bf00bf"/>
     <use href="#me5d670379a" x="636.8400" y="705.2400" style="fill: #bf00bf; stroke: #bf00bf"/>
    </g>
   </g>
   <g id="line2d_61">
    <path d="M 112.77551 704.88 
L 124.163265 704.88 
L 135.55102 704.88 
L 146.938776 704.88 
L 158.326531 704.88 
L 169.714286 704.88 
L 181.102041 704.88 
L 192.489796 704.88 
L 203.877551 704.88 
L 215.265306 704.88 
L 226.653061 704.88 
L 238.040816 704.88 
L 249.428571 704.88 
L 260.816327 704.88 
L 272.204082 704.88 
L 283.591837 704.88 
L 294.979592 704.88 
L 306.367347 704.88 
L 317.755102 704.88 
L 329.142857 704.88 
L 340.530612 704.88 
L 351.918367 704.88 
L 363.306122 704.88 
L 374.693878 704.88 
L 386.081633 704.88 
L 397.469388 704.88 
L 408.857143 704.88 
L 420.244898 704.88 
L 431.632653 704.88 
L 443.020408 703.8864 
L 454.408163 701.8128 
L 465.795918 697.536 
L 477.183673 693.1296 
L 488.571429 690.0192 
L 499.959184 687.4272 
L 511.346939 685.4832 
L 522.734694 682.2432 
L 534.122449 678.2256 
L 545.510204 673.884 
L 556.897959 670.32 
L 568.285714 666.6912 
L 579.673469 662.2848 
L 591.061224 660.8592 
L 602.44898 660.6 
L 613.836735 660.3408 
L 625.22449 660.3408 
L 636.612245 660.3408 
" clip-path="url(#p1a8c73a2c7)" style="fill: none; stroke: #00bfbf; stroke-width: 1.5; stroke-linecap: square"/>
    <defs>
     <path id="mcb88b09adc" d="M 0 1.5 
C 0.397805 1.5 0.77937 1.341951 1.06066 1.06066 
C 1.341951 0.77937 1.5 0.397805 1.5 0 
C 1.5 -0.397805 1.341951 -0.77937 1.06066 -1.06066 
C 0.77937 -1.341951 0.397805 -1.5 0 -1.5 
C -0.397805 -1.5 -0.77937 -1.341951 -1.06066 -1.06066 
C -1.341951 -0.77937 -1.5 -0.397805 -1.5 0 
C -1.5 0.397805 -1.341951 0.77937 -1.06066 1.06066 
C -0.77937 1.341951 -0.397805 1.5 0 1.5 
z
" style="stroke: #00bfbf"/>
    </defs>
    <g clip-path="url(#p1a8c73a2c7)">
     <use href="#mcb88b09adc" x="113.4000" y="705.2400" style="fill: #00bfbf; stroke: #00bfbf"/>
     <use href="#mcb88b09adc" x="124.2000" y="705.2400" style="fill: #00bfbf; stroke: #00bfbf"/>
     <use href="#mcb88b09adc" x="135.7200" y="705.2400" style="fill: #00bfbf; stroke: #00bfbf"/>
     <use href="#mcb88b09adc" x="147.2400" y="705.2400" style="fill: #00bfbf; stroke: #00bfbf"/>
     <use href="#mcb88b09adc" x="158.7600" y="705.2400" style="fill: #00bfbf; stroke: #00bfbf"/>
     <use href="#mcb88b09adc" x="170.2800" y="705.2400" style="fill: #00bfbf; stroke: #00bfbf"/>
     <use href="#mcb88b09adc" x="181.8000" y="705.2400" style="fill: #00bfbf; stroke: #00bfbf"/>
     <use href="#mcb88b09adc" x="192.6000" y="705.2400" style="fill: #00bfbf; stroke: #00bfbf"/>
     <use href="#mcb88b09adc" x="204.1200" y="705.2400" style="fill: #00bfbf; stroke: #00bfbf"/>
     <use href="#mcb88b09adc" x="215.6400" y="705.2400" style="fill: #00bfbf; stroke: #00bfbf"/>
     <use href="#mcb88b09adc" x="227.1600" y="705.2400" style="fill: #00bfbf; stroke: #00bfbf"/>
     <use href="#mcb88b09adc" x="238.6800" y="705.2400" style="fill: #00bfbf; stroke: #00bfbf"/>
     <use href="#mcb88b09adc" x="249.4800" y="705.2400" style="fill: #00bfbf; stroke: #00bfbf"/>
     <use href="#mcb88b09adc" x="261.0000" y="705.2400" style="fill: #00bfbf; stroke: #00bfbf"/>
     <use href="#mcb88b09adc" x="272.5200" y="705.2400" style="fill: #00bfbf; stroke: #00bfbf"/>
     <use href="#mcb88b09adc" x="284.0400" y="705.2400" style="fill: #00bfbf; stroke: #00bfbf"/>
     <use href="#mcb88b09adc" x="295.5600" y="705.2400" style="fill: #00bfbf; stroke: #00bfbf"/>
     <use href="#mcb88b09adc" x="307.0800" y="705.2400" style="fill: #00bfbf; stroke: #00bfbf"/>
     <use href="#mcb88b09adc" x="317.8800" y="705.2400" style="fill: #00bfbf; stroke: #00bfbf"/>
     <use href="#mcb88b09adc" x="329.4000" y="705.2400" style="fill: #00bfbf; stroke: #00bfbf"/>
     <use href="#mcb88b09adc" x="340.9200" y="705.2400" style="fill: #00bfbf; stroke: #00bfbf"/>
     <use href="#mcb88b09adc" x="352.4400" y="705.2400" style="fill: #00bfbf; stroke: #00bfbf"/>
     <use href="#mcb88b09adc" x="363.9600" y="705.2400" style="fill: #00bfbf; stroke: #00bfbf"/>
     <use href="#mcb88b09adc" x="374.7600" y="705.2400" style="fill: #00bfbf; stroke: #00bfbf"/>
     <use href="#mcb88b09adc" x="386.2800" y="705.2400" style="fill: #00bfbf; stroke: #00bfbf"/>
     <use href="#mcb88b09adc" x="397.8000" y="705.2400" style="fill: #00bfbf; stroke: #00bfbf"/>
     <use href="#mcb88b09adc" x="409.3200" y="705.2400" style="fill: #00bfbf; stroke: #00bfbf"/>
     <use href="#mcb88b09adc" x="420.8400" y="705.2400" style="fill: #00bfbf; stroke: #00bfbf"/>
     <use href="#mcb88b09adc" x="431.6400" y="705.2400" style="fill: #00bfbf; stroke: #00bfbf"/>
     <use href="#mcb88b09adc" x="443.1600" y="704.5200" style="fill: #00bfbf; stroke: #00bfbf"/>
     <use href="#mcb88b09adc" x="454.6800" y="702.3600" style="fill: #00bfbf; stroke: #00bfbf"/>
     <use href="#mcb88b09adc" x="466.2000" y="698.0400" style="fill: #00bfbf; stroke: #00bfbf"/>
     <use href="#mcb88b09adc" x="477.7200" y="693.7200" style="fill: #00bfbf; stroke: #00bfbf"/>
     <use href="#mcb88b09adc" x="489.2400" y="690.1200" style="fill: #00bfbf; stroke: #00bfbf"/>
     <use href="#mcb88b09adc" x="500.0400" y="687.9600" style="fill: #00bfbf; stroke: #00bfbf"/>
     <use href="#mcb88b09adc" x="511.5600" y="685.8000" style="fill: #00bfbf; stroke: #00bfbf"/>
     <use href="#mcb88b09adc" x="523.0800" y="682.9200" style="fill: #00bfbf; stroke: #00bfbf"/>
     <use href="#mcb88b09adc" x="534.6000" y="678.6000" style="fill: #00bfbf; stroke: #00bfbf"/>
     <use href="#mcb88b09adc" x="546.1200" y="674.2800" style="fill: #00bfbf; stroke: #00bfbf"/>
     <use href="#mcb88b09adc" x="556.9200" y="670.6800" style="fill: #00bfbf; stroke: #00bfbf"/>
     <use href="#mcb88b09adc" x="568.4400" y="667.0800" style="fill: #00bfbf; stroke: #00bfbf"/>
     <use href="#mcb88b09adc" x="579.9600" y="662.7600" style="fill: #00bfbf; stroke: #00bfbf"/>
     <use href="#mcb88b09adc" x="591.4800" y="661.3200" style="fill: #00bfbf; stroke: #00bfbf"/>
     <use href="#mcb88b09adc" x="603.0000" y="661.3200" style="fill: #00bfbf; stroke: #00bfbf"/>
     <use href="#mcb88b09adc" x="614.5200" y="660.6000" style="fill: #00bfbf; stroke: #00bfbf"/>
     <use href="#mcb88b09adc" x="625.3200" y="660.6000" style="fill: #00bfbf; stroke: #00bfbf"/>
     <use href="#mcb88b09adc" x="636.8400" y="660.6000" style="fill: #00bfbf; stroke: #00bfbf"/>
    </g>
   </g>
   <g id="patch_18">
    <path d="M 90.3600 705.2400 L 90.3600 600.1200" style="fill: none; stroke: #000000; stroke-width: 0.8; stroke-linejoin: miter; stroke-linecap: square"/>
   </g>
   <g id="patch_19">
    <path d="M 648.3600 705.2400 L 648.3600 600.1200" style="fill: none; stroke: #000000; stroke-width: 0.8; stroke-linejoin: miter; stroke-linecap: square"/>
   </g>
   <g id="patch_20">
    <path d="M 90.3600 705.2400 L 648.3600 705.2400" style="fill: none; stroke: #000000; stroke-width: 0.8; stroke-linejoin: miter; stroke-linecap: square"/>
   </g>
   <g id="patch_21">
    <path d="M 90.3600 600.1200 L 648.3600 600.1200" style="fill: none; stroke: #000000; stroke-width: 0.8; stroke-linejoin: miter; stroke-linecap: square"/>
   </g>
  </g>
  <g id="axes_5">
   <g id="matplotlib.axis_9">
    <g id="ytick_17">
     <g id="line2d_62">
      <defs>
       <path id="mac3c5e07f4" d="M 0 0 
L 3.5 0 
" style="stroke: #000000; stroke-width: 0.8"/>
      </defs>
      <g>
       <use href="#mac3c5e07f4" x="648.3600" y="570.6000" style="stroke: #000000; stroke-width: 0.8"/>
      </g>
     </g>
     <g id="text_184">
      <text style="font-size: 10px; font-family: 'DejaVu Sans', 'Liberation Sans', sans-serif; text-anchor: start" x="655.3600" y="574.550212">0.2</text>
     </g>
    </g>
    <g id="ytick_18">
     <g id="line2d_63">
      <g>
       <use href="#mac3c5e07f4" x="648.3600" y="531.7200" style="stroke: #000000; stroke-width: 0.8"/>
      </g>
     </g>
     <g id="text_185">
      <text style="font-size: 10px; font-family: 'DejaVu Sans', 'Liberation Sans', sans-serif; text-anchor: start" x="655.3600" y="535.295096">0.4</text>
     </g>
    </g>
    <g id="ytick_19">
     <g id="line2d_64">
      <g>
       <use href="#mac3c5e07f4" x="648.3600" y="492.1200" style="stroke: #000000; stroke-width: 0.8"/>
      </g>
     </g>
     <g id="text_186">
      <text style="font-size: 10px; font-family: 'DejaVu Sans', 'Liberation Sans', sans-serif; text-anchor: start" x="655.3600" y="496.03998">0.6</text>
     </g>
    </g>
    <g id="text_187">
     <text style="font-size: 10px; font-family: 'DejaVu Sans', 'Liberation Sans', sans-serif" transform="translate(682.0400 577.7488) rotate(-90)">Total Column Smoke</text>
     <g transform="translate(697.6784 565.4775) rotate(-90)">
      <text><tspan x="0 3.901367 13.642578 19.990234 23.359375 37.92334 41.102051 44.710449 47.88916 53.460449 56.23877 62.586426 68.924316 72.845215" y="-0.976562" style="font-size: 10px; font-family: 'DejaVu Sans', 'Liberation Sans', sans-serif">(mg/m - Light)</tspan><tspan x="33.196289" y="-4.804688" style="font-size: 7px; font-family: 'DejaVu Sans', 'Liberation Sans', sans-serif">2</tspan></text>
     </g>
    </g>
   </g>
   <g id="line2d_65">
    <path d="M 101.387755 573.768 
L 112.77551 567.72 
L 124.163265 556.488 
L 135.55102 538.488 
L 146.938776 523.224 
L 158.326531 532.728 
L 169.714286 501.768 
L 181.102041 523.224 
L 192.489796 552.024 
L 203.877551 557.928 
L 215.265306 552.6 
L 226.653061 550.872 
L 238.040816 556.488 
L 249.428571 550.008 
L 260.816327 547.128 
L 272.204082 538.344 
L 283.591837 539.64 
L 294.979592 534.744 
L 306.367347 529.128 
L 317.755102 532.728 
L 329.142857 526.824 
L 340.530612 531 
L 351.918367 510.984 
L 363.306122 531 
L 374.693878 546.264 
L 386.081633 554.328 
L 397.469388 544.248 
L 408.857143 532.728 
L 420.244898 478.008 
L 431.632653 518.904 
L 443.020408 529.128 
L 454.408163 544.248 
L 465.795918 557.208 
L 477.183673 550.728 
L 488.571429 560.808 
L 499.959184 562.248 
L 511.346939 560.088 
L 522.734694 562.248 
L 534.122449 552.168 
L 545.510204 539.064 
L 556.897959 531.864 
L 568.285714 526.104 
L 579.673469 538.488 
L 591.061224 546.408 
L 602.44898 542.664 
L 613.836735 544.248 
L 625.22449 552.168 
L 636.612245 554.328 
" clip-path="url(#p14d6899090)" style="fill: none; stroke: #cccccc; stroke-width: 1.5; stroke-linecap: square"/>
    <defs>
     <path id="m826caa1541" d="M 0 1.5 
C 0.397805 1.5 0.77937 1.341951 1.06066 1.06066 
C 1.341951 0.77937 1.5 0.397805 1.5 0 
C 1.5 -0.397805 1.341951 -0.77937 1.06066 -1.06066 
C 0.77937 -1.341951 0.397805 -1.5 0 -1.5 
C -0.397805 -1.5 -0.77937 -1.341951 -1.06066 -1.06066 
C -1.341951 -0.77937 -1.5 -0.397805 -1.5 0 
C -1.5 0.397805 -1.341951 0.77937 -1.06066 1.06066 
C -0.77937 1.341951 -0.397805 1.5 0 1.5 
z
" style="stroke: #cccccc"/>
    </defs>
    <g clip-path="url(#p14d6899090)">
     <use href="#m826caa1541" x="101.8800" y="574.2000" style="fill: #cccccc; stroke: #cccccc"/>
     <use href="#m826caa1541" x="113.4000" y="568.4400" style="fill: #cccccc; stroke: #cccccc"/>
     <use href="#m826caa1541" x="124.2000" y="556.9200" style="fill: #cccccc; stroke: #cccccc"/>
     <use href="#m826caa1541" x="135.7200" y="538.9200" style="fill: #cccccc; stroke: #cccccc"/>
     <use href="#m826caa1541" x="147.2400" y="523.8000" style="fill: #cccccc; stroke: #cccccc"/>
     <use href="#m826caa1541" x="158.7600" y="533.1600" style="fill: #cccccc; stroke: #cccccc"/>
     <use href="#m826caa1541" x="170.2800" y="502.2000" style="fill: #cccccc; stroke: #cccccc"/>
     <use href="#m826caa1541" x="181.8000" y="523.8000" style="fill: #cccccc; stroke: #cccccc"/>
     <use href="#m826caa1541" x="192.6000" y="552.6000" style="fill: #cccccc; stroke: #cccccc"/>
     <use href="#m826caa1541" x="204.1200" y="558.3600" style="fill: #cccccc; stroke: #cccccc"/>
     <use href="#m826caa1541" x="215.6400" y="553.3200" style="fill: #cccccc; stroke: #cccccc"/>
     <use href="#m826caa1541" x="227.1600" y="551.1600" style="fill: #cccccc; stroke: #cccccc"/>
     <use href="#m826caa1541" x="238.6800" y="556.9200" style="fill: #cccccc; stroke: #cccccc"/>
     <use href="#m826caa1541" x="249.4800" y="550.4400" style="fill: #cccccc; stroke: #cccccc"/>
     <use href="#m826caa1541" x="261.0000" y="547.5600" style="fill: #cccccc; stroke: #cccccc"/>
     <use href="#m826caa1541" x="272.5200" y="538.9200" style="fill: #cccccc; stroke: #cccccc"/>
     <use href="#m826caa1541" x="284.0400" y="540.3600" style="fill: #cccccc; stroke: #cccccc"/>
     <use href="#m826caa1541" x="295.5600" y="535.3200" style="fill: #cccccc; stroke: #cccccc"/>
     <use href="#m826caa1541" x="307.0800" y="529.5600" style="fill: #cccccc; stroke: #cccccc"/>
     <use href="#m826caa1541" x="317.8800" y="533.1600" style="fill: #cccccc; stroke: #cccccc"/>
     <use href="#m826caa1541" x="329.4000" y="527.4000" style="fill: #cccccc; stroke: #cccccc"/>
     <use href="#m826caa1541" x="340.9200" y="531.7200" style="fill: #cccccc; stroke: #cccccc"/>
     <use href="#m826caa1541" x="352.4400" y="511.5600" style="fill: #cccccc; stroke: #cccccc"/>
     <use href="#m826caa1541" x="363.9600" y="531.7200" style="fill: #cccccc; stroke: #cccccc"/>
     <use href="#m826caa1541" x="374.7600" y="546.8400" style="fill: #cccccc; stroke: #cccccc"/>
     <use href="#m826caa1541" x="386.2800" y="554.7600" style="fill: #cccccc; stroke: #cccccc"/>
     <use href="#m826caa1541" x="397.8000" y="544.6800" style="fill: #cccccc; stroke: #cccccc"/>
     <use href="#m826caa1541" x="409.3200" y="533.1600" style="fill: #cccccc; stroke: #cccccc"/>
     <use href="#m826caa1541" x="420.8400" y="478.4400" style="fill: #cccccc; stroke: #cccccc"/>
     <use href="#m826caa1541" x="431.6400" y="519.4800" style="fill: #cccccc; stroke: #cccccc"/>
     <use href="#m826caa1541" x="443.1600" y="529.5600" style="fill: #cccccc; stroke: #cccccc"/>
     <use href="#m826caa1541" x="454.6800" y="544.6800" style="fill: #cccccc; stroke: #cccccc"/>
     <use href="#m826caa1541" x="466.2000" y="557.6400" style="fill: #cccccc; stroke: #cccccc"/>
     <use href="#m826caa1541" x="477.7200" y="551.1600" style="fill: #cccccc; stroke: #cccccc"/>
     <use href="#m826caa1541" x="489.2400" y="561.2400" style="fill: #cccccc; stroke: #cccccc"/>
     <use href="#m826caa1541" x="500.0400" y="562.6800" style="fill: #cccccc; stroke: #cccccc"/>
     <use href="#m826caa1541" x="511.5600" y="560.5200" style="fill: #cccccc; stroke: #cccccc"/>
     <use href="#m826caa1541" x="523.0800" y="562.6800" style="fill: #cccccc; stroke: #cccccc"/>
     <use href="#m826caa1541" x="534.6000" y="552.6000" style="fill: #cccccc; stroke: #cccccc"/>
     <use href="#m826caa1541" x="546.1200" y="539.6400" style="fill: #cccccc; stroke: #cccccc"/>
     <use href="#m826caa1541" x="556.9200" y="532.4400" style="fill: #cccccc; stroke: #cccccc"/>
     <use href="#m826caa1541" x="568.4400" y="526.6800" style="fill: #cccccc; stroke: #cccccc"/>
     <use href="#m826caa1541" x="579.9600" y="538.9200" style="fill: #cccccc; stroke: #cccccc"/>
     <use href="#m826caa1541" x="591.4800" y="546.8400" style="fill: #cccccc; stroke: #cccccc"/>
     <use href="#m826caa1541" x="603.0000" y="543.2400" style="fill: #cccccc; stroke: #cccccc"/>
     <use href="#m826caa1541" x="614.5200" y="544.6800" style="fill: #cccccc; stroke: #cccccc"/>
     <use href="#m826caa1541" x="625.3200" y="552.6000" style="fill: #cccccc; stroke: #cccccc"/>
     <use href="#m826caa1541" x="636.8400" y="554.7600" style="fill: #cccccc; stroke: #cccccc"/>
    </g>
   </g>
   <g id="patch_22">
    <path d="M 90.3600 579.2400 L 90.3600 474.1200" style="fill: none; stroke: #000000; stroke-width: 0.8; stroke-linejoin: miter; stroke-linecap: square"/>
   </g>
   <g id="patch_23">
    <path d="M 648.3600 579.2400 L 648.3600 474.1200" style="fill: none; stroke: #000000; stroke-width: 0.8; stroke-linejoin: miter; stroke-linecap: square"/>
   </g>
   <g id="patch_24">
    <path d="M 90.3600 579.2400 L 648.3600 579.2400" style="fill: none; stroke: #000000; stroke-width: 0.8; stroke-linejoin: miter; stroke-linecap: square"/>
   </g>
   <g id="patch_25">
    <path d="M 90.3600 474.1200 L 648.3600 474.1200" style="fill: none; stroke: #000000; stroke-width: 0.8; stroke-linejoin: miter; stroke-linecap: square"/>
   </g>
  </g>
  <g id="axes_6">
   <g id="matplotlib.axis_10">
    <g id="xtick_37">
     <g id="line2d_66">
      <g>
       <use href="#m32e9f8ea44" x="90.3600" y="579.2400" style="stroke: #000000; stroke-width: 0.8"/>
      </g>
     </g>
    </g>
    <g id="xtick_38">
     <g id="line2d_67">
      <g>
       <use href="#m32e9f8ea44" x="158.7600" y="579.2400" style="stroke: #000000; stroke-width: 0.8"/>
      </g>
     </g>
    </g>
    <g id="xtick_39">
     <g id="line2d_68">
      <g>
       <use href="#m32e9f8ea44" x="227.1600" y="579.2400" style="stroke: #000000; stroke-width: 0.8"/>
      </g>
     </g>
    </g>
    <g id="xtick_40">
     <g id="line2d_69">
      <g>
       <use href="#m32e9f8ea44" x="295.5600" y="579.2400" style="stroke: #000000; stroke-width: 0.8"/>
      </g>
     </g>
    </g>
    <g id="xtick_41">
     <g id="line2d_70">
      <g>
       <use href="#m32e9f8ea44" x="363.9600" y="579.2400" style="stroke: #000000; stroke-width: 0.8"/>
      </g>
     </g>
    </g>
    <g id="xtick_42">
     <g id="line2d_71">
      <g>
       <use href="#m32e9f8ea44" x="431.6400" y="579.2400" style="stroke: #000000; stroke-width: 0.8"/>
      </g>
     </g>
    </g>
    <g id="xtick_43">
     <g id="line2d_72">
      <g>
       <use href="#m32e9f8ea44" x="500.0400" y="579.2400" style="stroke: #000000; stroke-width: 0.8"/>
      </g>
     </g>
    </g>
    <g id="xtick_44">
     <g id="line2d_73">
      <g>
       <use href="#m32e9f8ea44" x="568.4400" y="579.2400" style="stroke: #000000; stroke-width: 0.8"/>
      </g>
     </g>
    </g>
    <g id="xtick_45">
     <g id="line2d_74">
      <g>
       <use href="#m32e9f8ea44" x="636.8400" y="579.2400" style="stroke: #000000; stroke-width: 0.8"/>
      </g>
     </g>
    </g>
   </g>
   <g id="matplotlib.axis_11">
    <g id="ytick_20">
     <g id="line2d_75">
      <g>
       <use href="#mfa02ca06f7" x="90.3600" y="559.0800" style="stroke: #000000; stroke-width: 0.8"/>
      </g>
     </g>
     <g id="text_188">
      <text style="font-size: 10px; font-family: 'DejaVu Sans', 'Liberation Sans', sans-serif; text-anchor: end" x="83.2160" y="562.848">0.1</text>
     </g>
    </g>
    <g id="ytick_21">
     <g id="line2d_76">
      <g>
       <use href="#mfa02ca06f7" x="90.3600" y="533.8800" style="stroke: #000000; stroke-width: 0.8"/>
      </g>
     </g>
     <g id="text_189">
      <text style="font-size: 10px; font-family: 'DejaVu Sans', 'Liberation Sans', sans-serif; text-anchor: end" x="83.2160" y="537.358345">0.2</text>
     </g>
    </g>
    <g id="ytick_22">
     <g id="line2d_77">
      <g>
       <use href="#mfa02ca06f7" x="90.3600" y="507.9600" style="stroke: #000000; stroke-width: 0.8"/>
      </g>
     </g>
     <g id="text_190">
      <text style="font-size: 10px; font-family: 'DejaVu Sans', 'Liberation Sans', sans-serif; text-anchor: end" x="83.2160" y="511.86869">0.3</text>
     </g>
    </g>
    <g id="ytick_23">
     <g id="line2d_78">
      <g>
       <use href="#mfa02ca06f7" x="90.3600" y="482.7600" style="stroke: #000000; stroke-width: 0.8"/>
      </g>
     </g>
     <g id="text_191">
      <text style="font-size: 10px; font-family: 'DejaVu Sans', 'Liberation Sans', sans-serif; text-anchor: end" x="83.2160" y="486.379034">0.4</text>
     </g>
    </g>
    <g id="text_192">
     <text style="font-size: 10px; font-family: 'DejaVu Sans', 'Liberation Sans', sans-serif" transform="translate(42.4816 564.3838) rotate(-90)">Surface Smoke</text>
     <g transform="translate(58.1200 563.1775) rotate(-90)">
      <text><tspan x="0 10.263672 16.611328 19.980469 34.544434 37.723145 41.331543 44.510254 52.210449 58.338379 62.449707 68.240723" y="-0.976562" style="font-size: 10px; font-family: 'DejaVu Sans', 'Liberation Sans', sans-serif">(g/m - Dark)</tspan><tspan x="3.901367" y="-0.976562" style="font-style: oblique; font-size: 10px; font-family: 'DejaVu Sans', 'Liberation Sans', sans-serif">μ</tspan><tspan x="29.817383" y="-4.804688" style="font-size: 7px; font-family: 'DejaVu Sans', 'Liberation Sans', sans-serif">3</tspan></text>
     </g>
    </g>
   </g>
   <g id="line2d_79">
    <path d="M 101.387755 573.768 
L 112.77551 571.608 
L 124.163265 563.688 
L 135.55102 561.528 
L 146.938776 555.624 
L 158.326531 551.304 
L 169.714286 539.064 
L 181.102041 509.112 
L 192.489796 523.944 
L 203.877551 529.128 
L 215.265306 553.608 
L 226.653061 550.584 
L 238.040816 548.568 
L 249.428571 548.568 
L 260.816327 547.848 
L 272.204082 549.432 
L 283.591837 549.432 
L 294.979592 531.288 
L 306.367347 514.584 
L 317.755102 512.568 
L 329.142857 512.568 
L 340.530612 512.568 
L 351.918367 502.488 
L 363.306122 512.568 
L 374.693878 533.448 
L 386.081633 533.448 
L 397.469388 539.064 
L 408.857143 539.064 
L 420.244898 537.048 
L 431.632653 501.768 
L 443.020408 479.448 
L 454.408163 481.608 
L 465.795918 521.352 
L 477.183673 539.064 
L 488.571429 528.408 
L 499.959184 517.608 
L 511.346939 506.808 
L 522.734694 488.808 
L 534.122449 485.208 
L 545.510204 478.008 
L 556.897959 489.528 
L 568.285714 490.248 
L 579.673469 498.888 
L 591.061224 506.664 
L 602.44898 510.984 
L 613.836735 519.048 
L 625.22449 518.904 
L 636.612245 523.224 
" clip-path="url(#p14d6899090)" style="fill: none; stroke: #4c4c4c; stroke-width: 1.5; stroke-linecap: square"/>
    <defs>
     <path id="ma0a1c25f2f" d="M 0 1.5 
C 0.397805 1.5 0.77937 1.341951 1.06066 1.06066 
C 1.341951 0.77937 1.5 0.397805 1.5 0 
C 1.5 -0.397805 1.341951 -0.77937 1.06066 -1.06066 
C 0.77937 -1.341951 0.397805 -1.5 0 -1.5 
C -0.397805 -1.5 -0.77937 -1.341951 -1.06066 -1.06066 
C -1.341951 -0.77937 -1.5 -0.397805 -1.5 0 
C -1.5 0.397805 -1.341951 0.77937 -1.06066 1.06066 
C -0.77937 1.341951 -0.397805 1.5 0 1.5 
z
" style="stroke: #4c4c4c"/>
    </defs>
    <g clip-path="url(#p14d6899090)">
     <use href="#ma0a1c25f2f" x="101.8800" y="574.2000" style="fill: #4c4c4c; stroke: #4c4c4c"/>
     <use href="#ma0a1c25f2f" x="113.4000" y="572.0400" style="fill: #4c4c4c; stroke: #4c4c4c"/>
     <use href="#ma0a1c25f2f" x="124.2000" y="564.1200" style="fill: #4c4c4c; stroke: #4c4c4c"/>
     <use href="#ma0a1c25f2f" x="135.7200" y="561.9600" style="fill: #4c4c4c; stroke: #4c4c4c"/>
     <use href="#ma0a1c25f2f" x="147.2400" y="556.2000" style="fill: #4c4c4c; stroke: #4c4c4c"/>
     <use href="#ma0a1c25f2f" x="158.7600" y="551.8800" style="fill: #4c4c4c; stroke: #4c4c4c"/>
     <use href="#ma0a1c25f2f" x="170.2800" y="539.6400" style="fill: #4c4c4c; stroke: #4c4c4c"/>
     <use href="#ma0a1c25f2f" x="181.8000" y="509.4000" style="fill: #4c4c4c; stroke: #4c4c4c"/>
     <use href="#ma0a1c25f2f" x="192.6000" y="524.5200" style="fill: #4c4c4c; stroke: #4c4c4c"/>
     <use href="#ma0a1c25f2f" x="204.1200" y="529.5600" style="fill: #4c4c4c; stroke: #4c4c4c"/>
     <use href="#ma0a1c25f2f" x="215.6400" y="554.0400" style="fill: #4c4c4c; stroke: #4c4c4c"/>
     <use href="#ma0a1c25f2f" x="227.1600" y="551.1600" style="fill: #4c4c4c; stroke: #4c4c4c"/>
     <use href="#ma0a1c25f2f" x="238.6800" y="549.0000" style="fill: #4c4c4c; stroke: #4c4c4c"/>
     <use href="#ma0a1c25f2f" x="249.4800" y="549.0000" style="fill: #4c4c4c; stroke: #4c4c4c"/>
     <use href="#ma0a1c25f2f" x="261.0000" y="548.2800" style="fill: #4c4c4c; stroke: #4c4c4c"/>
     <use href="#ma0a1c25f2f" x="272.5200" y="549.7200" style="fill: #4c4c4c; stroke: #4c4c4c"/>
     <use href="#ma0a1c25f2f" x="284.0400" y="549.7200" style="fill: #4c4c4c; stroke: #4c4c4c"/>
     <use href="#ma0a1c25f2f" x="295.5600" y="531.7200" style="fill: #4c4c4c; stroke: #4c4c4c"/>
     <use href="#ma0a1c25f2f" x="307.0800" y="515.1600" style="fill: #4c4c4c; stroke: #4c4c4c"/>
     <use href="#ma0a1c25f2f" x="317.8800" y="513.0000" style="fill: #4c4c4c; stroke: #4c4c4c"/>
     <use href="#ma0a1c25f2f" x="329.4000" y="513.0000" style="fill: #4c4c4c; stroke: #4c4c4c"/>
     <use href="#ma0a1c25f2f" x="340.9200" y="513.0000" style="fill: #4c4c4c; stroke: #4c4c4c"/>
     <use href="#ma0a1c25f2f" x="352.4400" y="502.9200" style="fill: #4c4c4c; stroke: #4c4c4c"/>
     <use href="#ma0a1c25f2f" x="363.9600" y="513.0000" style="fill: #4c4c4c; stroke: #4c4c4c"/>
     <use href="#ma0a1c25f2f" x="374.7600" y="533.8800" style="fill: #4c4c4c; stroke: #4c4c4c"/>
     <use href="#ma0a1c25f2f" x="386.2800" y="533.8800" style="fill: #4c4c4c; stroke: #4c4c4c"/>
     <use href="#ma0a1c25f2f" x="397.8000" y="539.6400" style="fill: #4c4c4c; stroke: #4c4c4c"/>
     <use href="#ma0a1c25f2f" x="409.3200" y="539.6400" style="fill: #4c4c4c; stroke: #4c4c4c"/>
     <use href="#ma0a1c25f2f" x="420.8400" y="537.4800" style="fill: #4c4c4c; stroke: #4c4c4c"/>
     <use href="#ma0a1c25f2f" x="431.6400" y="502.2000" style="fill: #4c4c4c; stroke: #4c4c4c"/>
     <use href="#ma0a1c25f2f" x="443.1600" y="479.8800" style="fill: #4c4c4c; stroke: #4c4c4c"/>
     <use href="#ma0a1c25f2f" x="454.6800" y="482.0400" style="fill: #4c4c4c; stroke: #4c4c4c"/>
     <use href="#ma0a1c25f2f" x="466.2000" y="521.6400" style="fill: #4c4c4c; stroke: #4c4c4c"/>
     <use href="#ma0a1c25f2f" x="477.7200" y="539.6400" style="fill: #4c4c4c; stroke: #4c4c4c"/>
     <use href="#ma0a1c25f2f" x="489.2400" y="528.8400" style="fill: #4c4c4c; stroke: #4c4c4c"/>
     <use href="#ma0a1c25f2f" x="500.0400" y="518.0400" style="fill: #4c4c4c; stroke: #4c4c4c"/>
     <use href="#ma0a1c25f2f" x="511.5600" y="507.2400" style="fill: #4c4c4c; stroke: #4c4c4c"/>
     <use href="#ma0a1c25f2f" x="523.0800" y="489.2400" style="fill: #4c4c4c; stroke: #4c4c4c"/>
     <use href="#ma0a1c25f2f" x="534.6000" y="485.6400" style="fill: #4c4c4c; stroke: #4c4c4c"/>
     <use href="#ma0a1c25f2f" x="546.1200" y="478.4400" style="fill: #4c4c4c; stroke: #4c4c4c"/>
     <use href="#ma0a1c25f2f" x="556.9200" y="489.9600" style="fill: #4c4c4c; stroke: #4c4c4c"/>
     <use href="#ma0a1c25f2f" x="568.4400" y="490.6800" style="fill: #4c4c4c; stroke: #4c4c4c"/>
     <use href="#ma0a1c25f2f" x="579.9600" y="499.3200" style="fill: #4c4c4c; stroke: #4c4c4c"/>
     <use href="#ma0a1c25f2f" x="591.4800" y="507.2400" style="fill: #4c4c4c; stroke: #4c4c4c"/>
     <use href="#ma0a1c25f2f" x="603.0000" y="511.5600" style="fill: #4c4c4c; stroke: #4c4c4c"/>
     <use href="#ma0a1c25f2f" x="614.5200" y="519.4800" style="fill: #4c4c4c; stroke: #4c4c4c"/>
     <use href="#ma0a1c25f2f" x="625.3200" y="519.4800" style="fill: #4c4c4c; stroke: #4c4c4c"/>
     <use href="#ma0a1c25f2f" x="636.8400" y="523.8000" style="fill: #4c4c4c; stroke: #4c4c4c"/>
    </g>
   </g>
   <g id="patch_26">
    <path d="M 90.3600 579.2400 L 90.3600 474.1200" style="fill: none; stroke: #000000; stroke-width: 0.8; stroke-linejoin: miter; stroke-linecap: square"/>
   </g>
   <g id="patch_27">
    <path d="M 648.3600 579.2400 L 648.3600 474.1200" style="fill: none; stroke: #000000; stroke-width: 0.8; stroke-linejoin: miter; stroke-linecap: square"/>
   </g>
   <g id="patch_28">
    <path d="M 90.3600 579.2400 L 648.3600 579.2400" style="fill: none; stroke: #000000; stroke-width: 0.8; stroke-linejoin: miter; stroke-linecap: square"/>
   </g>
   <g id="patch_29">
    <path d="M 90.3600 474.1200 L 648.3600 474.1200" style="fill: none; stroke: #000000; stroke-width: 0.8; stroke-linejoin: miter; stroke-linecap: square"/>
   </g>
  </g>
  <g id="text_193">
   <text style="font-size: 12px; font-family: 'DejaVu Sans', 'Liberation Sans', sans-serif; text-anchor: start" x="173.40" y="24.62" textLength="372.83" lengthAdjust="spacing">HRRR Forecast Initalized 2026-01-16 00Z for 40.485,-106.832</text>
  </g>
  <g id="legend_1">
   <g id="line2d_80">
    <path d="M 205.2000 782.6400 L 215.2800 782.6400 L 225.3600 782.6400" style="fill: none; stroke: #008000; stroke-width: 1.5; stroke-linecap: square"/>
    <g>
     <use href="#m4e61fe54c4" x="215.6400" y="783.0000" style="fill: #008000; stroke: #008000"/>
    </g>
   </g>
   <g id="text_194">
    <text style="font-size: 10px; font-family: 'DejaVu Sans', 'Liberation Sans', sans-serif; text-anchor: start" x="233.465" y="785.84">Rain</text>
   </g>
   <g id="line2d_81">
    <path d="M 275.7600 782.6400 L 285.8400 782.6400 L 295.2000 782.6400" style="fill: none; stroke: #866c8a; stroke-width: 1.5; stroke-linecap: square"/>
    <g>
     <use href="#m53a08cee27" x="286.2000" y="783.0000" style="fill: #866c8a; stroke: #866c8a"/>
    </g>
   </g>
   <g id="text_195">
    <text style="font-size: 10px; font-family: 'DejaVu Sans', 'Liberation Sans', sans-serif; text-anchor: start" x="303.515" y="785.84">Sleet</text>
   </g>
   <g id="line2d_82">
    <path d="M 348.4800 782.6400 L 358.5600 782.6400 L 368.6400 782.6400" style="fill: none; stroke: #bf00bf; stroke-width: 1.5; stroke-linecap: square"/>
    <g>
     <use href="#me5d670379a" x="358.9200" y="783.0000" style="fill: #bf00bf; stroke: #bf00bf"/>
    </g>
   </g>
   <g id="text_196">
    <text style="font-size: 10px; font-family: 'DejaVu Sans', 'Liberation Sans', sans-serif; text-anchor: start" x="376.805" y="785.84">FzRain</text>
   </g>
   <g id="line2d_83">
    <path d="M 429.8400 782.6400 L 439.9200 782.6400 L 450.0000 782.6400" style="fill: none; stroke: #00bfbf; stroke-width: 1.5; stroke-linecap: square"/>
    <g>
     <use href="#mcb88b09adc" x="440.2800" y="783.0000" style="fill: #00bfbf; stroke: #00bfbf"/>
    </g>
   </g>
   <g id="text_197">
    <text style="font-size: 10px; font-family: 'DejaVu Sans', 'Liberation Sans', sans-serif; text-anchor: start" x="457.925" y="785.84">SnowWater</text>
   </g>
  </g>
 </g>
 <defs>
  <clipPath id="p893cc0ca87">
   <rect x="90" y="95.04" width="558" height="105.144828"/>
  </clipPath>
  <clipPath id="p71950203c7">
   <rect x="90" y="221.213793" width="558" height="105.144828"/>
  </clipPath>
  <clipPath id="p5a1ca6c099">
   <rect x="90" y="347.387586" width="558" height="105.144828"/>
  </clipPath>
  <clipPath id="p1a8c73a2c7">
   <rect x="90" y="599.735172" width="558" height="105.144828"/>
  </clipPath>
  <clipPath id="p14d6899090">
   <rect x="90" y="473.561379" width="558" height="105.144828"/>
  </clipPath>
 </defs>
</svg>

</body></html>
